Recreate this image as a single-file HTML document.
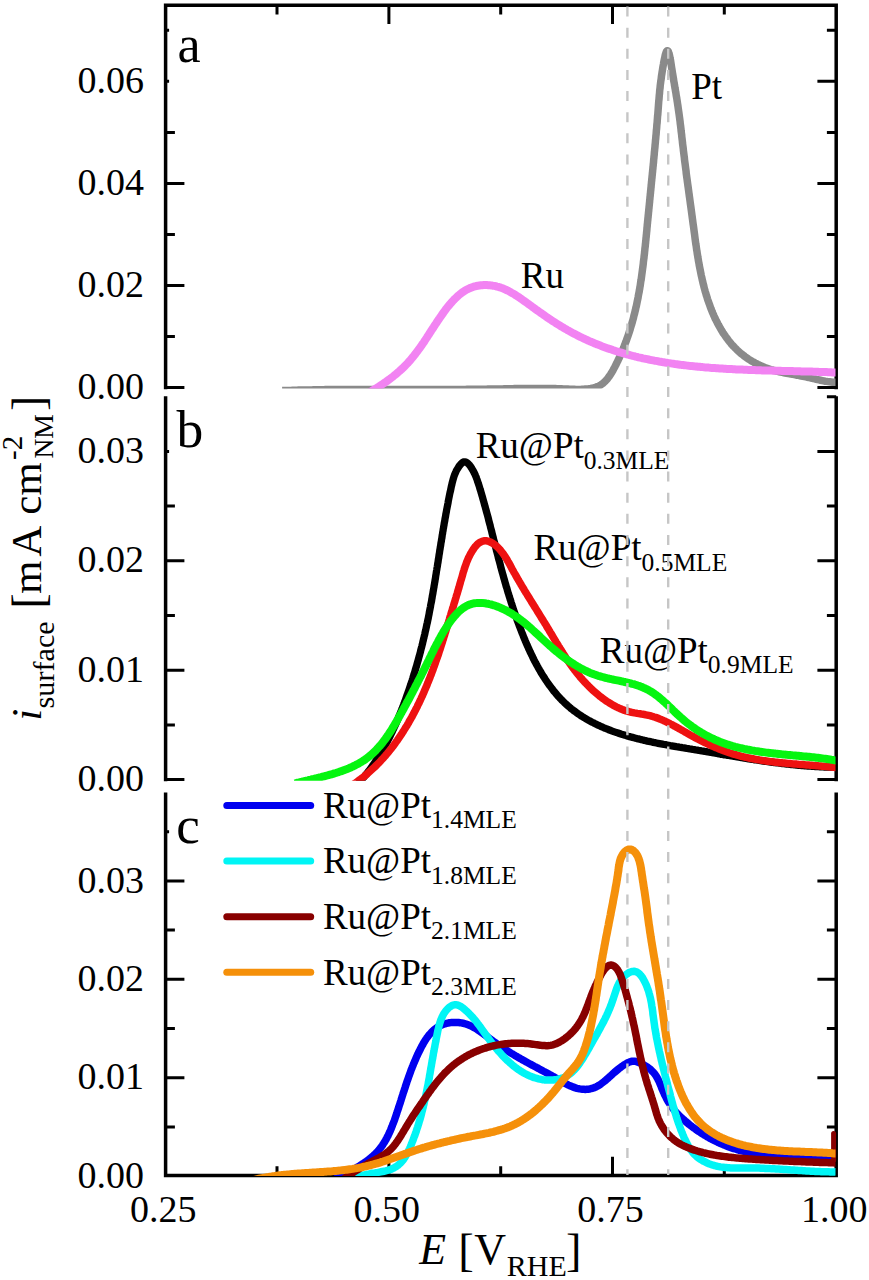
<!DOCTYPE html>
<html><head><meta charset="utf-8"><style>
html,body{margin:0;padding:0;background:#fff;}
svg{display:block;}
text{font-family:'Liberation Serif',serif;fill:#000;}
</style></head><body><div id="w">
<svg width="869" height="1280" viewBox="0 0 869 1280">
<rect width="869" height="1280" fill="#fff"/>
<defs>
<clipPath id="ca"><rect x="165.6" y="0" width="669.9" height="388.6"/></clipPath>
<clipPath id="cb"><rect x="165.6" y="396" width="669.9" height="384.79999999999995"/></clipPath>
<clipPath id="cc"><rect x="165.6" y="792" width="669.9" height="384"/></clipPath>
</defs>
<path d="M165.6,389.2 L165.6,5.2 L836.2,5.2 L836.2,389.2" fill="none" stroke="#000" stroke-width="3.5" stroke-linejoin="miter"/><path d="M165.6,396.2 L165.6,781.2 M836.2,396.2 L836.2,781.2" fill="none" stroke="#000" stroke-width="3.5"/><path d="M165.6,792.5 L165.6,1175.6 L836.2,1175.6 L836.2,792.5" fill="none" stroke="#000" stroke-width="3.5" stroke-linejoin="miter"/><path d="M836.2,387.6L817.4,387.6M165.6,387.6L184.4,387.6M836.2,336.6L826.9,336.6M165.6,336.6L174.9,336.6M836.2,285.5L817.4,285.5M165.6,285.5L184.4,285.5M836.2,234.5L826.9,234.5M165.6,234.5L174.9,234.5M836.2,183.4L817.4,183.4M165.6,183.4L184.4,183.4M836.2,132.4L826.9,132.4M165.6,132.4L174.9,132.4M836.2,81.3L817.4,81.3M165.6,81.3L169.1,81.3M836.2,30.2L826.9,30.2M165.6,30.2L169.1,30.2M836.2,779.6L817.4,779.6M165.6,779.6L184.4,779.6M836.2,724.9L826.9,724.9M165.6,724.9L174.9,724.9M836.2,670.2L817.4,670.2M165.6,670.2L184.4,670.2M836.2,615.5L826.9,615.5M165.6,615.5L174.9,615.5M836.2,560.8L817.4,560.8M165.6,560.8L184.4,560.8M836.2,506.1L826.9,506.1M165.6,506.1L174.9,506.1M836.2,451.4L817.4,451.4M165.6,451.4L169.1,451.4M836.2,396.7L826.9,396.7M836.2,1126.9L826.9,1126.9M165.6,1126.9L174.9,1126.9M836.2,1077.7L817.4,1077.7M165.6,1077.7L184.4,1077.7M836.2,1028.5L826.9,1028.5M165.6,1028.5L174.9,1028.5M836.2,979.3L817.4,979.3M165.6,979.3L184.4,979.3M836.2,930.1L826.9,930.1M165.6,930.1L174.9,930.1M836.2,880.9L817.4,880.9M165.6,880.9L184.4,880.9M836.2,831.7L826.9,831.7M165.6,831.7L169.1,831.7M277.0,5.2L277.0,14.5M277.0,1175.6L277.0,1166.3M388.9,5.2L388.9,24.0M388.9,1175.6L388.9,1156.8M500.7,5.2L500.7,14.5M500.7,1175.6L500.7,1166.3M612.5,5.2L612.5,24.0M612.5,1175.6L612.5,1156.8M724.3,5.2L724.3,14.5M724.3,1175.6L724.3,1166.3" stroke="#000" stroke-width="3.0" fill="none"/>
<path d="M282.1,390.6L283.6,390.6 285.0,390.5 286.5,390.5 288.0,390.4 289.5,390.4 291.0,390.4 292.5,390.3 294.0,390.3 295.5,390.2 297.0,390.2 298.5,390.1 300.0,390.1 301.4,390.1 302.9,390.0 304.4,390.0 305.9,390.0 307.4,389.9 308.9,389.9 310.4,389.9 311.9,389.9 313.4,389.8 314.9,389.8 316.4,389.8 317.9,389.7 319.4,389.7 320.9,389.7 322.4,389.7 323.9,389.7 325.4,389.6 326.9,389.6 328.4,389.6 329.9,389.6 331.5,389.6 333.0,389.5 334.5,389.5 336.0,389.5 337.5,389.5 339.0,389.5 340.5,389.5 342.0,389.5 343.5,389.5 345.0,389.4 346.5,389.4 348.0,389.4 349.5,389.4 351.0,389.4 352.5,389.4 354.1,389.4 355.6,389.4 357.1,389.4 358.6,389.4 360.1,389.4 361.6,389.4 363.1,389.4 364.6,389.4 366.1,389.4 367.6,389.4 369.1,389.4 370.7,389.4 372.2,389.4 373.7,389.4 375.2,389.4 376.7,389.4 378.2,389.4 379.7,389.4 381.2,389.4 382.7,389.4 384.3,389.4 385.8,389.4 387.3,389.4 388.8,389.4 390.3,389.4 391.8,389.4 393.3,389.4 394.8,389.4 396.3,389.4 397.8,389.4 399.4,389.4 400.9,389.4 402.4,389.4 403.9,389.4 405.4,389.4 406.9,389.4 408.4,389.4 409.9,389.4 411.4,389.4 412.9,389.4 414.4,389.4 416.0,389.4 417.5,389.4 419.0,389.4 420.5,389.4 422.0,389.4 423.5,389.4 425.0,389.4 426.5,389.4 428.0,389.4 429.5,389.4 431.0,389.4 432.5,389.4 434.0,389.4 435.5,389.4 437.0,389.4 438.5,389.4 440.0,389.4 441.6,389.4 443.1,389.4 444.6,389.4 446.1,389.4 447.6,389.4 449.1,389.4 450.6,389.4 452.1,389.4 453.6,389.4 455.1,389.4 456.6,389.4 458.1,389.4 459.5,389.4 461.0,389.4 462.5,389.4 464.0,389.4 465.5,389.4 467.0,389.3 468.5,389.3 470.0,389.3 471.5,389.3 473.0,389.3 474.5,389.3 476.0,389.3 477.5,389.3 479.0,389.2 480.4,389.2 481.9,389.2 483.4,389.2 484.9,389.2 486.4,389.2 487.9,389.1 489.4,389.1 490.8,389.1 492.3,389.1 493.8,389.0 495.3,389.0 496.8,389.0 498.3,389.0 499.7,388.9 501.2,388.9 502.7,388.9 504.2,388.8 505.6,388.8 507.1,388.8 508.6,388.8 510.1,388.7 511.6,388.7 513.0,388.7 514.5,388.6 516.0,388.6 517.5,388.6 518.9,388.5 520.4,388.5 521.9,388.5 523.4,388.5 524.9,388.4 526.4,388.4 527.9,388.4 529.4,388.4 530.9,388.4 532.4,388.4 533.9,388.4 535.4,388.4 536.9,388.4 538.4,388.4 539.9,388.4 541.4,388.4 543.0,388.4 544.5,388.4 546.0,388.4 547.6,388.4 549.1,388.5 550.7,388.5 552.2,388.5 553.8,388.6 555.3,388.6 556.9,388.7 558.5,388.7 560.1,388.8 561.6,388.8 563.2,388.9 564.8,389.0 566.4,389.1 568.0,389.1 569.6,389.2 571.2,389.3 572.8,389.3 574.3,389.3 575.9,389.4 577.5,389.4 579.0,389.4 580.6,389.4 582.1,389.3 583.6,389.2 585.1,389.1 586.5,389.0 588.0,388.9 589.4,388.7 590.8,388.5 592.2,388.2 593.5,387.9 594.8,387.5 596.1,387.1 597.4,386.6 598.6,386.1 599.8,385.5 600.9,384.8 602.0,384.0 603.1,383.2 604.1,382.3 605.2,381.3 606.1,380.3 607.1,379.2 608.0,378.0 608.9,376.8 609.7,375.6 610.6,374.3 611.4,373.0 612.2,371.7 613.0,370.3 613.7,368.9 614.5,367.5 615.2,366.1 615.9,364.7 616.6,363.3 617.3,361.9 618.0,360.5 618.6,359.1 619.3,357.7 619.9,356.3 620.6,354.9 621.2,353.4 621.8,352.0 622.4,350.6 623.0,349.2 623.6,347.8 624.1,346.4 624.7,344.9 625.2,343.5 625.8,342.1 626.3,340.7 626.8,339.2 627.3,337.8 627.8,336.4 628.3,335.0 628.8,333.5 629.3,332.1 629.7,330.7 630.2,329.2 630.6,327.8 631.0,326.4 631.5,324.9 631.9,323.5 632.3,322.1 632.7,320.6 633.1,319.2 633.5,317.7 633.8,316.3 634.2,314.8 634.6,313.4 634.9,312.0 635.3,310.5 635.6,309.1 635.9,307.6 636.3,306.2 636.6,304.7 636.9,303.3 637.2,301.8 637.5,300.3 637.8,298.9 638.1,297.4 638.3,296.0 638.6,294.5 638.9,293.0 639.2,291.6 639.4,290.1 639.7,288.7 639.9,287.2 640.2,285.7 640.4,284.3 640.6,282.8 640.8,281.3 641.1,279.9 641.3,278.4 641.5,276.9 641.7,275.4 641.9,274.0 642.1,272.5 642.3,271.0 642.5,269.5 642.7,268.0 642.9,266.6 643.1,265.1 643.3,263.6 643.4,262.1 643.6,260.6 643.8,259.1 644.0,257.7 644.1,256.2 644.3,254.7 644.5,253.2 644.6,251.7 644.8,250.2 644.9,248.7 645.1,247.2 645.3,245.7 645.4,244.2 645.6,242.7 645.7,241.2 645.9,239.7 646.0,238.2 646.2,236.7 646.3,235.2 646.5,233.7 646.6,232.2 646.8,230.7 646.9,229.2 647.0,227.7 647.2,226.2 647.3,224.6 647.5,223.1 647.6,221.6 647.8,220.1 647.9,218.6 648.1,217.1 648.2,215.5 648.4,214.0 648.5,212.5 648.7,211.0 648.8,209.5 649.0,207.9 649.1,206.4 649.3,204.9 649.4,203.4 649.6,201.9 649.7,200.3 649.9,198.8 650.0,197.3 650.2,195.8 650.3,194.3 650.5,192.7 650.6,191.2 650.8,189.7 650.9,188.2 651.1,186.7 651.2,185.1 651.4,183.6 651.5,182.1 651.7,180.6 651.8,179.1 652.0,177.6 652.1,176.1 652.3,174.5 652.4,173.0 652.6,171.5 652.7,170.0 652.9,168.5 653.0,167.0 653.2,165.5 653.3,164.0 653.5,162.5 653.6,161.0 653.7,159.5 653.9,158.0 654.0,156.5 654.2,155.0 654.3,153.6 654.4,152.1 654.6,150.6 654.7,149.1 654.9,147.6 655.0,146.2 655.1,144.7 655.3,143.2 655.4,141.7 655.5,140.3 655.7,138.8 655.8,137.4 655.9,135.9 656.1,134.5 656.2,133.0 656.3,131.6 656.4,130.1 656.6,128.7 656.7,127.2 656.8,125.8 656.9,124.4 657.1,123.0 657.2,121.5 657.3,120.1 657.4,118.7 657.5,117.3 657.6,115.9 657.8,114.5 657.9,113.1 658.0,111.7 658.1,110.3 658.2,108.9 658.3,107.6 658.4,106.2 658.5,104.8 658.6,103.4 658.7,102.0 658.8,100.7 659.0,99.3 659.1,97.8 659.2,96.4 659.3,95.0 659.5,93.5 659.6,92.1 659.7,90.6 659.9,89.1 660.1,87.5 660.2,86.0 660.4,84.4 660.6,82.7 660.8,81.1 661.1,79.4 661.3,77.7 661.5,75.9 661.8,74.1 662.1,72.2 662.4,70.3 662.7,68.4 663.0,66.4 663.4,64.4 663.7,62.4 664.1,60.5 664.5,58.6 664.9,56.9 665.2,55.3 665.6,53.9 666.0,52.7 666.4,51.7 666.8,51.1 667.2,50.7 667.6,50.7 668.0,51.0 668.4,51.6 668.7,52.5 669.1,53.6 669.4,55.0 669.8,56.6 670.1,58.3 670.5,60.1 670.8,62.0 671.1,64.0 671.4,66.0 671.7,68.0 672.0,69.9 672.3,71.8 672.6,73.6 672.9,75.4 673.2,77.1 673.5,78.8 673.7,80.5 674.0,82.1 674.3,83.6 674.5,85.2 674.8,86.7 675.0,88.1 675.3,89.6 675.5,91.0 675.8,92.4 676.0,93.8 676.2,95.2 676.4,96.5 676.7,97.9 676.9,99.2 677.1,100.6 677.3,101.9 677.5,103.2 677.7,104.6 677.9,105.9 678.1,107.3 678.3,108.7 678.5,110.1 678.7,111.5 678.9,112.9 679.1,114.3 679.3,115.8 679.5,117.2 679.7,118.7 679.9,120.2 680.1,121.7 680.2,123.1 680.4,124.6 680.6,126.1 680.8,127.7 681.0,129.2 681.1,130.7 681.3,132.2 681.5,133.7 681.7,135.3 681.8,136.8 682.0,138.3 682.2,139.9 682.4,141.4 682.5,142.9 682.7,144.5 682.9,146.0 683.1,147.5 683.3,149.0 683.4,150.6 683.6,152.1 683.8,153.6 684.0,155.1 684.2,156.6 684.4,158.1 684.5,159.6 684.7,161.1 684.9,162.6 685.1,164.1 685.3,165.5 685.5,167.0 685.7,168.5 685.9,170.0 686.1,171.5 686.2,172.9 686.4,174.4 686.6,175.9 686.8,177.4 687.0,178.8 687.2,180.3 687.4,181.8 687.6,183.2 687.8,184.7 688.0,186.1 688.2,187.6 688.4,189.1 688.6,190.5 688.8,192.0 689.0,193.5 689.2,194.9 689.4,196.4 689.6,197.8 689.8,199.3 690.0,200.8 690.2,202.2 690.4,203.7 690.6,205.2 690.8,206.6 691.0,208.1 691.2,209.6 691.4,211.0 691.6,212.5 691.8,214.0 692.0,215.5 692.2,216.9 692.4,218.4 692.6,219.9 692.8,221.4 693.0,222.9 693.2,224.4 693.4,225.8 693.6,227.3 693.8,228.8 694.0,230.3 694.2,231.8 694.4,233.3 694.6,234.8 694.8,236.4 695.0,237.9 695.2,239.4 695.4,240.9 695.6,242.4 695.8,243.9 696.1,245.4 696.3,246.9 696.5,248.4 696.7,250.0 697.0,251.5 697.2,253.0 697.4,254.5 697.7,256.0 697.9,257.5 698.2,259.0 698.4,260.5 698.7,262.1 699.0,263.6 699.2,265.1 699.5,266.6 699.8,268.1 700.1,269.6 700.4,271.1 700.7,272.6 701.0,274.1 701.3,275.6 701.7,277.1 702.0,278.5 702.3,280.0 702.7,281.5 703.0,283.0 703.4,284.5 703.8,285.9 704.1,287.4 704.5,288.9 704.9,290.3 705.3,291.8 705.8,293.2 706.2,294.7 706.6,296.1 707.1,297.5 707.5,299.0 708.0,300.4 708.5,301.8 709.0,303.2 709.5,304.6 710.0,306.0 710.5,307.4 711.0,308.8 711.6,310.2 712.1,311.6 712.7,313.0 713.3,314.3 713.9,315.7 714.5,317.0 715.1,318.4 715.8,319.7 716.4,321.0 717.1,322.3 717.8,323.7 718.5,325.0 719.2,326.2 719.9,327.5 720.6,328.8 721.4,330.1 722.2,331.3 722.9,332.6 723.7,333.8 724.6,335.0 725.4,336.2 726.3,337.4 727.1,338.6 728.0,339.8 728.9,341.0 729.8,342.1 730.8,343.2 731.7,344.4 732.7,345.5 733.7,346.5 734.7,347.6 735.8,348.7 736.8,349.7 737.9,350.7 739.0,351.7 740.1,352.7 741.2,353.7 742.4,354.6 743.6,355.5 744.8,356.5 746.0,357.3 747.2,358.2 748.5,359.1 749.8,359.9 751.1,360.7 752.4,361.5 753.8,362.2 755.1,363.0 756.5,363.7 757.9,364.4 759.3,365.0 760.7,365.7 762.1,366.3 763.5,366.9 764.9,367.5 766.4,368.0 767.8,368.5 769.2,369.0 770.7,369.5 772.1,369.9 773.6,370.3 775.0,370.7 776.5,371.1 777.9,371.4 779.4,371.8 780.8,372.1 782.3,372.4 783.8,372.7 785.2,373.0 786.7,373.3 788.2,373.6 789.6,373.8 791.1,374.1 792.6,374.4 794.1,374.6 795.5,374.9 797.0,375.2 798.5,375.4 800.0,375.7 801.4,376.0 802.9,376.3 804.4,376.6 805.9,376.9 807.4,377.2 808.8,377.5 810.3,377.9 811.8,378.2 813.3,378.6 814.8,378.9 816.3,379.3 817.7,379.6 819.2,379.9 820.7,380.3 822.2,380.6 823.7,380.9 825.2,381.2 826.6,381.4 828.1,381.6 829.6,381.8 831.1,382.0 832.6,382.2 834.0,382.3 835.5,382.3 837.0,382.4 838.5,382.3 839.9,382.3" fill="none" stroke="#8a8a8a" stroke-width="7.5" stroke-linejoin="round" clip-path="url(#ca)"/><path d="M355.3,400.3L356.5,399.7 357.6,399.1 358.8,398.5 360.0,397.8 361.2,397.1 362.4,396.4 363.7,395.8 364.9,395.0 366.2,394.3 367.5,393.6 368.7,392.8 370.0,392.1 371.3,391.3 372.6,390.5 373.9,389.7 375.2,388.9 376.5,388.1 377.8,387.2 379.2,386.4 380.5,385.5 381.8,384.7 383.1,383.8 384.4,382.9 385.7,382.0 387.0,381.1 388.2,380.1 389.5,379.2 390.8,378.3 392.0,377.3 393.3,376.3 394.5,375.3 395.7,374.4 396.9,373.4 398.1,372.3 399.3,371.3 400.4,370.3 401.5,369.3 402.6,368.2 403.7,367.2 404.8,366.1 405.8,365.0 406.8,364.0 407.9,362.9 408.8,361.8 409.8,360.7 410.8,359.6 411.7,358.4 412.7,357.3 413.6,356.2 414.5,355.0 415.4,353.9 416.3,352.7 417.1,351.6 418.0,350.4 418.9,349.2 419.7,348.1 420.6,346.9 421.4,345.7 422.2,344.5 423.0,343.3 423.9,342.1 424.7,340.8 425.5,339.6 426.3,338.4 427.1,337.2 427.9,335.9 428.7,334.7 429.5,333.5 430.3,332.2 431.1,331.0 431.9,329.7 432.8,328.4 433.6,327.2 434.4,325.9 435.2,324.6 436.1,323.4 436.9,322.1 437.8,320.8 438.6,319.5 439.5,318.3 440.4,317.0 441.3,315.7 442.2,314.4 443.1,313.1 444.0,311.8 444.9,310.6 445.9,309.3 446.8,308.0 447.8,306.8 448.8,305.6 449.8,304.4 450.8,303.2 451.9,302.0 452.9,300.9 454.0,299.7 455.1,298.6 456.2,297.6 457.3,296.5 458.4,295.5 459.6,294.5 460.7,293.6 461.9,292.7 463.1,291.9 464.4,291.0 465.6,290.3 466.9,289.6 468.2,288.9 469.5,288.3 470.9,287.7 472.2,287.2 473.6,286.7 475.0,286.3 476.5,286.0 477.9,285.7 479.4,285.5 480.9,285.3 482.3,285.2 483.8,285.1 485.3,285.1 486.8,285.1 488.3,285.2 489.8,285.3 491.3,285.4 492.7,285.7 494.2,285.9 495.6,286.2 497.0,286.6 498.4,286.9 499.8,287.3 501.1,287.8 502.5,288.3 503.8,288.8 505.1,289.4 506.4,290.0 507.7,290.6 509.0,291.3 510.3,292.0 511.5,292.7 512.8,293.4 514.1,294.2 515.4,295.0 516.7,295.8 518.0,296.7 519.3,297.5 520.5,298.4 521.8,299.3 523.1,300.2 524.4,301.1 525.7,302.0 526.9,302.9 528.2,303.9 529.5,304.8 530.8,305.7 532.1,306.7 533.4,307.6 534.6,308.5 535.9,309.5 537.2,310.4 538.5,311.3 539.8,312.2 541.1,313.1 542.4,314.0 543.6,314.9 544.9,315.8 546.2,316.7 547.5,317.6 548.8,318.5 550.1,319.3 551.4,320.2 552.7,321.1 554.0,321.9 555.3,322.7 556.6,323.6 557.9,324.4 559.2,325.2 560.5,326.0 561.8,326.8 563.1,327.5 564.4,328.3 565.7,329.1 567.0,329.8 568.3,330.6 569.6,331.3 570.9,332.0 572.2,332.7 573.5,333.4 574.9,334.1 576.2,334.8 577.5,335.5 578.8,336.1 580.2,336.8 581.5,337.4 582.8,338.1 584.2,338.7 585.5,339.3 586.8,339.9 588.2,340.6 589.5,341.2 590.9,341.7 592.2,342.3 593.6,342.9 594.9,343.5 596.3,344.0 597.6,344.6 599.0,345.1 600.4,345.6 601.7,346.2 603.1,346.7 604.5,347.2 605.9,347.7 607.3,348.2 608.6,348.7 610.0,349.1 611.4,349.6 612.8,350.1 614.2,350.5 615.6,351.0 617.0,351.4 618.4,351.9 619.8,352.3 621.3,352.7 622.7,353.1 624.1,353.5 625.5,353.9 626.9,354.3 628.4,354.7 629.8,355.1 631.2,355.5 632.7,355.9 634.1,356.2 635.6,356.6 637.0,356.9 638.4,357.3 639.9,357.6 641.4,357.9 642.8,358.3 644.3,358.6 645.7,358.9 647.2,359.2 648.7,359.5 650.1,359.8 651.6,360.1 653.1,360.4 654.5,360.7 656.0,360.9 657.5,361.2 659.0,361.5 660.5,361.7 661.9,362.0 663.4,362.2 664.9,362.5 666.4,362.7 667.9,363.0 669.4,363.2 670.9,363.4 672.4,363.6 673.9,363.8 675.4,364.1 676.9,364.3 678.4,364.5 679.9,364.7 681.4,364.9 682.9,365.0 684.4,365.2 685.9,365.4 687.4,365.6 688.9,365.8 690.5,365.9 692.0,366.1 693.5,366.2 695.0,366.4 696.5,366.5 698.0,366.7 699.6,366.8 701.1,367.0 702.6,367.1 704.1,367.3 705.6,367.4 707.2,367.5 708.7,367.6 710.2,367.8 711.7,367.9 713.3,368.0 714.8,368.1 716.3,368.2 717.9,368.3 719.4,368.4 720.9,368.5 722.4,368.6 724.0,368.7 725.5,368.8 727.0,368.9 728.6,369.0 730.1,369.0 731.6,369.1 733.2,369.2 734.7,369.3 736.2,369.4 737.8,369.4 739.3,369.5 740.8,369.6 742.3,369.6 743.9,369.7 745.4,369.8 746.9,369.8 748.5,369.9 750.0,369.9 751.5,370.0 753.1,370.1 754.6,370.1 756.1,370.2 757.6,370.2 759.2,370.3 760.7,370.3 762.2,370.4 763.7,370.4 765.3,370.4 766.8,370.5 768.3,370.5 769.8,370.6 771.4,370.6 772.9,370.7 774.4,370.7 775.9,370.7 777.4,370.8 778.9,370.8 780.5,370.8 782.0,370.9 783.5,370.9 785.0,371.0 786.5,371.0 788.0,371.0 789.5,371.1 791.0,371.1 792.5,371.1 794.0,371.2 795.5,371.2 797.0,371.2 798.5,371.3 800.0,371.3 801.5,371.4 803.0,371.4 804.5,371.4 806.0,371.5 807.5,371.5 809.0,371.6 810.5,371.6 811.9,371.6 813.4,371.7 814.9,371.7 816.4,371.8 817.9,371.8 819.3,371.9 820.8,371.9 822.3,372.0 823.7,372.0 825.2,372.1 826.6,372.1 828.1,372.2 829.6,372.2 831.0,372.3 832.5,372.4 833.9,372.4 835.4,372.5 836.8,372.6 838.2,372.6 839.7,372.7" fill="none" stroke="#f283f2" stroke-width="8" stroke-linejoin="round" clip-path="url(#ca)"/><path d="M340.2,800.2L341.4,799.3 342.6,798.3 343.7,797.4 344.9,796.4 346.0,795.4 347.2,794.4 348.3,793.4 349.4,792.4 350.5,791.3 351.6,790.3 352.7,789.3 353.8,788.2 354.8,787.1 355.9,786.1 356.9,785.0 357.9,783.9 358.9,782.8 359.9,781.7 360.9,780.6 361.9,779.4 362.9,778.3 363.8,777.2 364.8,776.0 365.7,774.8 366.7,773.7 367.6,772.5 368.5,771.3 369.4,770.1 370.3,768.9 371.2,767.7 372.0,766.5 372.9,765.3 373.7,764.1 374.6,762.8 375.4,761.6 376.2,760.3 377.1,759.1 377.9,757.8 378.7,756.6 379.5,755.3 380.2,754.0 381.0,752.7 381.8,751.4 382.5,750.1 383.3,748.8 384.0,747.5 384.7,746.2 385.5,744.9 386.2,743.6 386.9,742.3 387.6,740.9 388.3,739.6 389.0,738.3 389.7,736.9 390.3,735.6 391.0,734.2 391.6,732.9 392.3,731.5 392.9,730.1 393.6,728.8 394.2,727.4 394.8,726.0 395.5,724.6 396.1,723.2 396.7,721.9 397.3,720.5 397.9,719.1 398.4,717.7 399.0,716.3 399.6,714.9 400.2,713.5 400.7,712.1 401.3,710.7 401.9,709.3 402.4,707.9 402.9,706.5 403.5,705.0 404.0,703.6 404.6,702.2 405.1,700.8 405.6,699.4 406.1,697.9 406.6,696.5 407.1,695.1 407.6,693.7 408.1,692.3 408.6,690.8 409.1,689.4 409.6,688.0 410.1,686.5 410.6,685.1 411.0,683.7 411.5,682.3 412.0,680.8 412.4,679.4 412.9,678.0 413.3,676.5 413.8,675.1 414.2,673.6 414.7,672.2 415.1,670.8 415.5,669.3 415.9,667.9 416.4,666.4 416.8,665.0 417.2,663.5 417.6,662.1 418.0,660.7 418.4,659.2 418.8,657.8 419.2,656.3 419.6,654.9 420.0,653.4 420.4,652.0 420.7,650.5 421.1,649.0 421.5,647.6 421.9,646.1 422.2,644.7 422.6,643.2 422.9,641.8 423.3,640.3 423.6,638.8 424.0,637.4 424.3,635.9 424.7,634.5 425.0,633.0 425.3,631.5 425.7,630.1 426.0,628.6 426.3,627.2 426.6,625.7 426.9,624.2 427.3,622.8 427.6,621.3 427.9,619.8 428.2,618.4 428.5,616.9 428.8,615.4 429.1,613.9 429.3,612.5 429.6,611.0 429.9,609.5 430.2,608.1 430.5,606.6 430.7,605.1 431.0,603.6 431.3,602.2 431.6,600.7 431.8,599.2 432.1,597.7 432.3,596.3 432.6,594.8 432.9,593.3 433.1,591.8 433.4,590.3 433.6,588.9 433.9,587.4 434.1,585.9 434.4,584.4 434.6,582.9 434.9,581.5 435.1,580.0 435.4,578.5 435.6,577.0 435.8,575.5 436.1,574.1 436.3,572.6 436.5,571.1 436.8,569.6 437.0,568.1 437.3,566.6 437.5,565.2 437.7,563.7 438.0,562.2 438.2,560.7 438.4,559.2 438.7,557.7 438.9,556.2 439.1,554.8 439.4,553.3 439.6,551.8 439.8,550.3 440.1,548.8 440.3,547.3 440.6,545.8 440.8,544.3 441.0,542.8 441.3,541.4 441.5,539.9 441.8,538.4 442.0,536.9 442.2,535.4 442.5,533.9 442.7,532.4 443.0,530.9 443.2,529.4 443.5,527.9 443.7,526.5 444.0,525.0 444.2,523.5 444.5,522.0 444.8,520.5 445.0,519.0 445.3,517.5 445.6,516.0 445.8,514.5 446.1,513.0 446.4,511.5 446.6,510.1 446.9,508.6 447.2,507.1 447.5,505.6 447.8,504.1 448.1,502.6 448.3,501.1 448.6,499.6 448.9,498.1 449.2,496.6 449.5,495.1 449.8,493.6 450.1,492.2 450.5,490.7 450.8,489.2 451.1,487.7 451.4,486.2 451.8,484.7 452.1,483.2 452.5,481.7 452.9,480.3 453.3,478.8 453.7,477.4 454.2,475.9 454.7,474.5 455.3,473.1 455.9,471.8 456.5,470.4 457.3,469.1 458.1,467.8 458.9,466.5 459.8,465.3 460.8,464.1 461.9,463.0 463.0,462.2 464.1,461.8 465.3,461.8 466.4,462.3 467.5,463.0 468.6,464.1 469.7,465.3 470.7,466.7 471.7,468.3 472.6,469.8 473.5,471.4 474.3,473.0 475.0,474.4 475.6,475.9 476.2,477.3 476.7,478.7 477.2,480.0 477.6,481.4 478.1,482.8 478.5,484.1 479.0,485.5 479.4,486.8 479.8,488.2 480.2,489.6 480.7,491.0 481.1,492.4 481.5,493.8 481.9,495.2 482.3,496.6 482.7,498.0 483.1,499.4 483.5,500.9 483.9,502.3 484.3,503.7 484.7,505.2 485.1,506.6 485.5,508.1 485.9,509.5 486.3,511.0 486.7,512.4 487.1,513.9 487.5,515.4 487.9,516.8 488.3,518.3 488.6,519.7 489.0,521.2 489.4,522.7 489.8,524.2 490.2,525.6 490.5,527.1 490.9,528.6 491.3,530.0 491.7,531.5 492.0,533.0 492.4,534.5 492.8,535.9 493.2,537.4 493.5,538.9 493.9,540.4 494.3,541.8 494.7,543.3 495.0,544.8 495.4,546.2 495.8,547.7 496.2,549.2 496.5,550.7 496.9,552.1 497.3,553.6 497.7,555.0 498.1,556.5 498.4,558.0 498.8,559.4 499.2,560.9 499.6,562.3 500.0,563.8 500.4,565.2 500.7,566.7 501.1,568.1 501.5,569.6 501.9,571.0 502.3,572.4 502.7,573.9 503.1,575.3 503.5,576.7 503.9,578.2 504.3,579.6 504.7,581.0 505.1,582.4 505.5,583.8 505.9,585.3 506.3,586.7 506.8,588.1 507.2,589.5 507.6,590.9 508.0,592.4 508.5,593.8 508.9,595.2 509.3,596.6 509.8,598.0 510.2,599.4 510.7,600.8 511.1,602.3 511.6,603.7 512.0,605.1 512.5,606.5 513.0,607.9 513.4,609.3 513.9,610.7 514.4,612.2 514.9,613.6 515.4,615.0 515.9,616.4 516.4,617.8 516.9,619.3 517.4,620.7 517.9,622.1 518.5,623.5 519.0,624.9 519.5,626.4 520.1,627.8 520.6,629.2 521.2,630.7 521.7,632.1 522.3,633.5 522.9,634.9 523.4,636.4 524.0,637.8 524.6,639.2 525.2,640.7 525.8,642.1 526.4,643.5 527.0,644.9 527.7,646.4 528.3,647.8 528.9,649.2 529.6,650.6 530.2,652.0 530.9,653.4 531.6,654.8 532.3,656.2 532.9,657.6 533.6,659.0 534.3,660.4 535.0,661.7 535.8,663.1 536.5,664.5 537.2,665.8 538.0,667.2 538.7,668.5 539.5,669.9 540.3,671.2 541.0,672.5 541.8,673.8 542.6,675.1 543.4,676.4 544.3,677.7 545.1,679.0 545.9,680.2 546.8,681.5 547.6,682.7 548.5,684.0 549.4,685.2 550.3,686.4 551.2,687.6 552.1,688.8 553.0,690.0 553.9,691.2 554.9,692.3 555.8,693.4 556.8,694.6 557.7,695.7 558.7,696.8 559.7,697.9 560.7,698.9 561.7,700.0 562.8,701.0 563.8,702.0 564.9,703.1 565.9,704.0 567.0,705.0 568.1,706.0 569.2,706.9 570.3,707.9 571.4,708.8 572.6,709.7 573.7,710.6 574.9,711.4 576.0,712.3 577.2,713.1 578.4,714.0 579.6,714.8 580.8,715.6 582.0,716.4 583.2,717.1 584.5,717.9 585.7,718.6 587.0,719.4 588.2,720.1 589.5,720.8 590.8,721.5 592.1,722.2 593.4,722.8 594.7,723.5 596.0,724.1 597.3,724.8 598.7,725.4 600.0,726.0 601.3,726.6 602.7,727.2 604.0,727.8 605.4,728.4 606.8,728.9 608.2,729.5 609.5,730.0 610.9,730.5 612.3,731.1 613.7,731.6 615.2,732.1 616.6,732.6 618.0,733.0 619.4,733.5 620.9,734.0 622.3,734.4 623.7,734.9 625.2,735.3 626.6,735.7 628.1,736.2 629.6,736.6 631.0,737.0 632.5,737.4 634.0,737.8 635.5,738.2 636.9,738.6 638.4,738.9 639.9,739.3 641.4,739.7 642.9,740.0 644.4,740.4 645.9,740.7 647.4,741.1 648.9,741.4 650.4,741.7 651.9,742.0 653.4,742.4 654.9,742.7 656.5,743.0 658.0,743.3 659.5,743.6 661.0,743.9 662.5,744.2 664.1,744.5 665.6,744.7 667.1,745.0 668.6,745.3 670.2,745.6 671.7,745.8 673.2,746.1 674.7,746.4 676.2,746.7 677.8,746.9 679.3,747.2 680.8,747.4 682.3,747.7 683.9,747.9 685.4,748.2 686.9,748.5 688.4,748.7 689.9,749.0 691.4,749.2 692.9,749.5 694.4,749.7 695.9,750.0 697.5,750.2 699.0,750.5 700.4,750.7 701.9,751.0 703.4,751.2 704.9,751.5 706.4,751.7 707.9,752.0 709.4,752.2 710.9,752.5 712.3,752.7 713.8,753.0 715.3,753.2 716.8,753.5 718.2,753.8 719.7,754.0 721.2,754.3 722.6,754.5 724.1,754.8 725.6,755.0 727.0,755.3 728.5,755.5 729.9,755.7 731.4,756.0 732.9,756.2 734.3,756.5 735.8,756.7 737.2,757.0 738.7,757.2 740.1,757.4 741.6,757.7 743.0,757.9 744.5,758.2 745.9,758.4 747.4,758.6 748.8,758.9 750.3,759.1 751.7,759.3 753.2,759.5 754.7,759.8 756.1,760.0 757.6,760.2 759.0,760.4 760.5,760.6 761.9,760.8 763.4,761.1 764.8,761.3 766.3,761.5 767.7,761.7 769.2,761.9 770.7,762.1 772.1,762.3 773.6,762.5 775.0,762.6 776.5,762.8 778.0,763.0 779.4,763.2 780.9,763.4 782.4,763.6 783.8,763.7 785.3,763.9 786.8,764.1 788.3,764.2 789.8,764.4 791.2,764.5 792.7,764.7 794.2,764.8 795.7,765.0 797.2,765.1 798.7,765.3 800.2,765.4 801.7,765.5 803.2,765.7 804.7,765.8 806.2,765.9 807.7,766.0 809.2,766.1 810.7,766.2 812.2,766.3 813.8,766.4 815.3,766.5 816.8,766.6 818.4,766.7 819.9,766.8 821.4,766.8 823.0,766.9 824.5,767.0 826.1,767.0 827.6,767.1 829.2,767.1 830.8,767.2 832.3,767.2 833.9,767.3 835.5,767.3 837.1,767.3 838.7,767.3 840.2,767.4" fill="none" stroke="#000000" stroke-width="7.3" stroke-linejoin="round" clip-path="url(#cb)"/><path d="M340.1,792.4L341.5,791.6 342.8,790.9 344.1,790.1 345.5,789.4 346.8,788.6 348.1,787.8 349.4,787.0 350.7,786.2 351.9,785.3 353.2,784.5 354.4,783.7 355.7,782.8 356.9,781.9 358.1,781.0 359.3,780.1 360.5,779.2 361.7,778.3 362.9,777.4 364.1,776.5 365.2,775.5 366.4,774.5 367.5,773.6 368.6,772.6 369.7,771.6 370.8,770.6 371.9,769.6 373.0,768.6 374.1,767.6 375.2,766.5 376.2,765.5 377.3,764.4 378.3,763.4 379.4,762.3 380.4,761.2 381.4,760.1 382.4,759.0 383.4,757.9 384.4,756.8 385.4,755.7 386.3,754.5 387.3,753.4 388.2,752.3 389.2,751.1 390.1,749.9 391.0,748.8 392.0,747.6 392.9,746.4 393.8,745.2 394.7,744.0 395.5,742.8 396.4,741.6 397.3,740.4 398.1,739.2 399.0,737.9 399.8,736.7 400.7,735.4 401.5,734.2 402.3,732.9 403.1,731.7 403.9,730.4 404.7,729.1 405.5,727.8 406.3,726.5 407.1,725.3 407.8,724.0 408.6,722.7 409.3,721.3 410.1,720.0 410.8,718.7 411.6,717.4 412.3,716.1 413.0,714.7 413.7,713.4 414.4,712.1 415.1,710.7 415.8,709.4 416.5,708.0 417.2,706.7 417.8,705.3 418.5,703.9 419.2,702.6 419.8,701.2 420.5,699.8 421.1,698.5 421.7,697.1 422.4,695.7 423.0,694.3 423.6,692.9 424.2,691.5 424.8,690.1 425.4,688.7 426.0,687.3 426.6,685.9 427.2,684.5 427.7,683.1 428.3,681.7 428.9,680.3 429.4,678.9 430.0,677.5 430.5,676.1 431.1,674.7 431.6,673.3 432.1,671.9 432.7,670.4 433.2,669.0 433.7,667.6 434.2,666.2 434.7,664.8 435.2,663.4 435.7,661.9 436.2,660.5 436.7,659.1 437.2,657.7 437.7,656.3 438.2,654.9 438.7,653.4 439.1,652.0 439.6,650.6 440.1,649.2 440.5,647.8 441.0,646.3 441.4,644.9 441.9,643.5 442.4,642.1 442.8,640.6 443.3,639.2 443.7,637.8 444.1,636.4 444.6,635.0 445.0,633.5 445.5,632.1 445.9,630.7 446.3,629.3 446.8,627.8 447.2,626.4 447.6,625.0 448.1,623.6 448.5,622.1 448.9,620.7 449.4,619.3 449.8,617.8 450.2,616.4 450.7,615.0 451.1,613.5 451.5,612.1 452.0,610.7 452.4,609.3 452.8,607.8 453.3,606.4 453.7,605.0 454.1,603.5 454.6,602.1 455.0,600.7 455.4,599.2 455.9,597.8 456.3,596.3 456.7,594.9 457.2,593.5 457.6,592.0 458.0,590.6 458.4,589.2 458.9,587.7 459.3,586.3 459.7,584.8 460.1,583.4 460.5,581.9 460.9,580.5 461.4,579.1 461.8,577.6 462.2,576.2 462.6,574.7 463.0,573.3 463.4,571.8 463.9,570.4 464.3,569.0 464.8,567.5 465.3,566.1 465.8,564.7 466.3,563.3 466.8,561.8 467.4,560.4 468.0,559.0 468.6,557.6 469.3,556.3 470.0,554.9 470.7,553.5 471.5,552.2 472.3,550.8 473.2,549.5 474.1,548.2 475.0,546.9 476.1,545.7 477.1,544.6 478.2,543.5 479.4,542.7 480.7,541.9 482.0,541.4 483.3,541.0 484.6,540.8 486.0,540.8 487.4,541.0 488.8,541.4 490.1,541.9 491.4,542.6 492.7,543.3 494.0,544.2 495.2,545.1 496.4,546.1 497.6,547.2 498.7,548.3 499.8,549.5 500.8,550.7 501.8,552.0 502.8,553.3 503.8,554.6 504.6,555.9 505.5,557.2 506.3,558.5 507.1,559.8 507.8,561.1 508.6,562.4 509.3,563.7 510.0,564.9 510.7,566.2 511.3,567.5 512.0,568.8 512.7,570.0 513.4,571.3 514.1,572.6 514.9,573.9 515.6,575.1 516.3,576.4 517.0,577.7 517.8,579.0 518.5,580.3 519.3,581.6 520.0,582.8 520.8,584.1 521.5,585.4 522.3,586.7 523.1,588.0 523.9,589.3 524.6,590.6 525.4,591.9 526.2,593.1 527.0,594.4 527.8,595.7 528.6,597.0 529.4,598.3 530.2,599.6 531.0,600.9 531.8,602.2 532.6,603.5 533.4,604.8 534.2,606.1 535.0,607.3 535.8,608.6 536.6,609.9 537.4,611.2 538.2,612.5 539.0,613.8 539.8,615.1 540.6,616.4 541.4,617.7 542.2,619.0 543.0,620.3 543.8,621.6 544.6,622.9 545.4,624.1 546.2,625.4 546.9,626.7 547.7,628.0 548.5,629.3 549.3,630.6 550.0,631.9 550.8,633.2 551.6,634.4 552.3,635.7 553.1,637.0 553.8,638.3 554.6,639.6 555.4,640.8 556.1,642.1 556.9,643.4 557.7,644.6 558.4,645.9 559.2,647.2 560.0,648.4 560.8,649.7 561.6,650.9 562.3,652.2 563.1,653.4 563.9,654.7 564.7,655.9 565.5,657.1 566.3,658.4 567.2,659.6 568.0,660.8 568.8,662.0 569.7,663.3 570.5,664.5 571.4,665.7 572.3,666.9 573.1,668.1 574.0,669.2 574.9,670.4 575.8,671.6 576.7,672.8 577.7,673.9 578.6,675.1 579.6,676.2 580.5,677.4 581.5,678.5 582.5,679.7 583.5,680.8 584.5,681.9 585.6,683.0 586.6,684.1 587.7,685.2 588.8,686.3 589.9,687.4 591.0,688.5 592.1,689.5 593.2,690.6 594.4,691.6 595.6,692.7 596.8,693.7 598.0,694.7 599.2,695.7 600.5,696.7 601.7,697.7 603.0,698.6 604.3,699.5 605.5,700.4 606.8,701.3 608.2,702.2 609.5,703.0 610.8,703.8 612.1,704.6 613.5,705.4 614.9,706.1 616.2,706.8 617.6,707.5 619.0,708.1 620.4,708.7 621.8,709.3 623.1,709.9 624.6,710.4 626.0,710.8 627.4,711.2 628.8,711.6 630.2,712.0 631.6,712.3 633.0,712.6 634.5,712.9 635.9,713.1 637.3,713.4 638.7,713.6 640.1,713.8 641.6,714.1 643.0,714.3 644.4,714.5 645.8,714.8 647.2,715.1 648.6,715.4 650.0,715.7 651.4,716.1 652.8,716.5 654.2,717.0 655.6,717.4 657.0,717.9 658.4,718.4 659.7,719.0 661.1,719.5 662.5,720.1 663.8,720.7 665.2,721.3 666.5,722.0 667.9,722.6 669.3,723.3 670.6,724.0 672.0,724.7 673.3,725.4 674.6,726.2 676.0,726.9 677.3,727.6 678.7,728.4 680.0,729.1 681.3,729.9 682.7,730.6 684.0,731.4 685.3,732.2 686.7,732.9 688.0,733.7 689.3,734.4 690.7,735.2 692.0,735.9 693.3,736.6 694.7,737.4 696.0,738.1 697.3,738.8 698.7,739.5 700.0,740.2 701.4,740.9 702.7,741.5 704.0,742.2 705.4,742.8 706.7,743.5 708.1,744.1 709.4,744.8 710.8,745.4 712.1,746.0 713.5,746.6 714.8,747.2 716.2,747.8 717.6,748.3 718.9,748.9 720.3,749.4 721.7,750.0 723.1,750.5 724.4,751.0 725.8,751.5 727.2,752.0 728.6,752.5 730.0,753.0 731.4,753.4 732.8,753.9 734.2,754.3 735.7,754.7 737.1,755.1 738.5,755.5 739.9,755.9 741.4,756.3 742.8,756.6 744.3,757.0 745.7,757.3 747.2,757.6 748.6,758.0 750.1,758.3 751.6,758.6 753.0,758.8 754.5,759.1 756.0,759.4 757.5,759.6 759.0,759.9 760.5,760.1 761.9,760.4 763.4,760.6 764.9,760.8 766.4,761.0 767.9,761.2 769.4,761.4 770.9,761.6 772.4,761.8 774.0,762.0 775.5,762.2 777.0,762.3 778.5,762.5 780.0,762.7 781.5,762.8 783.0,763.0 784.6,763.1 786.1,763.2 787.6,763.4 789.1,763.5 790.6,763.6 792.1,763.8 793.7,763.9 795.2,764.0 796.7,764.1 798.2,764.3 799.7,764.4 801.2,764.5 802.8,764.6 804.3,764.7 805.8,764.9 807.3,765.0 808.8,765.1 810.3,765.2 811.8,765.3 813.3,765.4 814.8,765.6 816.3,765.7 817.8,765.8 819.3,765.9 820.8,766.0 822.3,766.2 823.8,766.3 825.3,766.4 826.7,766.6 828.2,766.7 829.7,766.9 831.2,767.0 832.6,767.2 834.1,767.3 835.6,767.5 837.0,767.6 838.5,767.8 839.9,768.0" fill="none" stroke="#ee1111" stroke-width="7.5" stroke-linejoin="round" clip-path="url(#cb)"/><path d="M294.9,783.5L296.3,783.1 297.7,782.7 299.2,782.4 300.6,782.0 302.1,781.7 303.5,781.3 305.0,781.0 306.4,780.6 307.9,780.3 309.3,779.9 310.8,779.6 312.3,779.2 313.8,778.9 315.2,778.5 316.7,778.2 318.2,777.8 319.7,777.4 321.1,777.1 322.6,776.7 324.1,776.3 325.6,775.9 327.1,775.5 328.5,775.1 330.0,774.7 331.5,774.3 332.9,773.9 334.4,773.4 335.8,773.0 337.3,772.5 338.7,772.1 340.1,771.6 341.6,771.1 343.0,770.6 344.4,770.0 345.8,769.5 347.2,769.0 348.6,768.4 349.9,767.8 351.3,767.2 352.6,766.6 354.0,765.9 355.3,765.3 356.6,764.6 357.9,763.9 359.2,763.2 360.5,762.4 361.7,761.7 363.0,760.9 364.2,760.1 365.4,759.3 366.6,758.4 367.8,757.5 368.9,756.6 370.0,755.7 371.2,754.8 372.3,753.8 373.4,752.8 374.4,751.7 375.5,750.7 376.5,749.6 377.5,748.5 378.5,747.4 379.5,746.3 380.5,745.2 381.5,744.0 382.4,742.8 383.3,741.6 384.2,740.4 385.2,739.2 386.1,737.9 386.9,736.7 387.8,735.4 388.7,734.2 389.5,732.9 390.4,731.6 391.2,730.3 392.0,729.0 392.8,727.7 393.6,726.3 394.4,725.0 395.2,723.7 396.0,722.4 396.8,721.0 397.5,719.7 398.3,718.4 399.0,717.0 399.8,715.7 400.5,714.3 401.3,713.0 402.0,711.7 402.7,710.4 403.5,709.0 404.2,707.7 404.9,706.4 405.6,705.1 406.3,703.8 407.0,702.4 407.8,701.1 408.5,699.8 409.2,698.5 409.9,697.2 410.6,695.9 411.2,694.6 411.9,693.3 412.6,692.0 413.3,690.7 414.0,689.4 414.7,688.1 415.3,686.8 416.0,685.4 416.7,684.1 417.4,682.8 418.0,681.5 418.7,680.2 419.4,678.9 420.0,677.6 420.7,676.3 421.4,675.0 422.0,673.6 422.7,672.3 423.4,671.0 424.0,669.7 424.7,668.3 425.4,667.0 426.0,665.6 426.7,664.3 427.3,663.0 428.0,661.6 428.7,660.2 429.3,658.9 430.0,657.5 430.7,656.2 431.3,654.8 432.0,653.4 432.7,652.1 433.4,650.7 434.0,649.3 434.7,647.9 435.4,646.6 436.1,645.2 436.8,643.8 437.6,642.5 438.3,641.1 439.0,639.7 439.8,638.4 440.5,637.0 441.3,635.7 442.0,634.3 442.8,633.0 443.6,631.6 444.4,630.3 445.3,629.0 446.1,627.7 447.0,626.4 447.8,625.1 448.7,623.8 449.6,622.5 450.5,621.2 451.4,620.0 452.4,618.8 453.4,617.5 454.3,616.4 455.4,615.2 456.4,614.1 457.4,613.0 458.5,611.9 459.6,610.9 460.7,610.0 461.8,609.0 463.0,608.2 464.2,607.4 465.4,606.6 466.6,605.9 467.9,605.3 469.1,604.8 470.4,604.3 471.8,603.9 473.1,603.5 474.5,603.3 475.9,603.1 477.4,602.9 478.8,602.9 480.3,602.9 481.7,602.9 483.2,603.1 484.7,603.2 486.2,603.5 487.7,603.7 489.3,604.1 490.8,604.4 492.3,604.9 493.8,605.3 495.3,605.8 496.8,606.4 498.3,606.9 499.8,607.5 501.2,608.2 502.7,608.8 504.1,609.5 505.5,610.2 506.9,610.9 508.3,611.7 509.6,612.4 511.0,613.2 512.3,614.0 513.5,614.8 514.8,615.6 516.0,616.5 517.3,617.3 518.5,618.2 519.7,619.1 520.8,620.0 522.0,620.9 523.2,621.8 524.3,622.7 525.4,623.6 526.6,624.6 527.7,625.5 528.8,626.5 529.9,627.4 531.0,628.4 532.0,629.4 533.1,630.4 534.2,631.4 535.3,632.3 536.3,633.3 537.4,634.3 538.5,635.3 539.6,636.3 540.6,637.4 541.7,638.4 542.8,639.4 543.9,640.4 545.0,641.4 546.1,642.4 547.2,643.4 548.3,644.4 549.4,645.4 550.6,646.4 551.7,647.4 552.8,648.4 554.0,649.4 555.2,650.4 556.3,651.3 557.5,652.3 558.7,653.3 559.9,654.2 561.1,655.2 562.3,656.1 563.5,657.0 564.7,657.9 566.0,658.8 567.2,659.7 568.5,660.6 569.7,661.5 571.0,662.3 572.3,663.2 573.6,664.0 574.9,664.8 576.2,665.6 577.5,666.4 578.8,667.1 580.1,667.9 581.4,668.6 582.8,669.3 584.1,670.0 585.5,670.7 586.9,671.3 588.3,672.0 589.6,672.6 591.0,673.2 592.4,673.7 593.9,674.3 595.3,674.8 596.7,675.3 598.1,675.8 599.6,676.2 601.0,676.6 602.5,677.0 604.0,677.4 605.4,677.8 606.9,678.2 608.4,678.5 609.9,678.8 611.4,679.2 612.9,679.5 614.3,679.8 615.8,680.1 617.3,680.4 618.8,680.7 620.3,681.0 621.8,681.3 623.3,681.7 624.7,682.0 626.2,682.3 627.7,682.7 629.1,683.0 630.6,683.4 632.0,683.8 633.5,684.1 634.9,684.6 636.3,685.0 637.7,685.5 639.1,685.9 640.5,686.5 641.9,687.0 643.2,687.6 644.6,688.2 645.9,688.8 647.2,689.4 648.5,690.1 649.8,690.9 651.1,691.6 652.3,692.4 653.6,693.3 654.8,694.1 656.0,695.0 657.2,695.9 658.4,696.8 659.5,697.8 660.7,698.7 661.9,699.7 663.0,700.7 664.1,701.7 665.3,702.7 666.4,703.8 667.5,704.8 668.6,705.9 669.7,706.9 670.8,708.0 671.9,709.0 672.9,710.1 674.0,711.1 675.1,712.2 676.2,713.2 677.3,714.3 678.4,715.3 679.5,716.3 680.6,717.3 681.8,718.3 682.9,719.3 684.0,720.3 685.2,721.2 686.4,722.2 687.5,723.1 688.7,724.0 689.9,724.9 691.1,725.8 692.3,726.7 693.6,727.6 694.8,728.4 696.0,729.3 697.3,730.1 698.5,730.9 699.8,731.7 701.1,732.5 702.4,733.2 703.7,734.0 705.0,734.7 706.3,735.4 707.6,736.1 708.9,736.8 710.2,737.5 711.6,738.1 712.9,738.7 714.3,739.4 715.6,740.0 717.0,740.5 718.4,741.1 719.7,741.7 721.1,742.2 722.5,742.7 723.9,743.2 725.3,743.7 726.7,744.2 728.1,744.7 729.6,745.1 731.0,745.5 732.4,746.0 733.8,746.4 735.3,746.8 736.7,747.1 738.2,747.5 739.6,747.9 741.1,748.2 742.6,748.5 744.0,748.9 745.5,749.2 747.0,749.5 748.5,749.8 750.0,750.0 751.4,750.3 752.9,750.6 754.4,750.8 755.9,751.1 757.4,751.3 758.9,751.5 760.4,751.8 761.9,752.0 763.4,752.2 764.9,752.4 766.5,752.6 768.0,752.8 769.5,753.0 771.0,753.1 772.5,753.3 774.0,753.5 775.6,753.6 777.1,753.8 778.6,754.0 780.1,754.1 781.7,754.3 783.2,754.4 784.7,754.6 786.2,754.7 787.8,754.9 789.3,755.0 790.8,755.1 792.3,755.3 793.8,755.4 795.4,755.5 796.9,755.7 798.4,755.8 799.9,756.0 801.4,756.1 802.9,756.3 804.5,756.4 806.0,756.5 807.5,756.7 809.0,756.8 810.5,757.0 812.0,757.2 813.5,757.3 815.0,757.5 816.5,757.7 818.0,757.8 819.4,758.0 820.9,758.2 822.4,758.4 823.9,758.6 825.4,758.8 826.8,759.0 828.3,759.2 829.7,759.4 831.2,759.7 832.6,759.9 834.1,760.2 835.5,760.4 837.0,760.7 838.4,761.0 839.8,761.2" fill="none" stroke="#05f510" stroke-width="8" stroke-linejoin="round" clip-path="url(#cb)"/><path d="M329.9,1181.8L331.2,1181.1 332.5,1180.4 333.8,1179.7 335.2,1179.0 336.5,1178.3 337.8,1177.7 339.2,1177.0 340.5,1176.3 341.9,1175.6 343.2,1174.9 344.6,1174.2 345.9,1173.5 347.3,1172.8 348.6,1172.1 350.0,1171.4 351.3,1170.6 352.7,1169.9 354.0,1169.1 355.3,1168.4 356.6,1167.6 357.9,1166.9 359.2,1166.1 360.5,1165.3 361.8,1164.5 363.0,1163.6 364.3,1162.8 365.5,1161.9 366.7,1161.1 367.9,1160.2 369.1,1159.3 370.2,1158.3 371.3,1157.4 372.5,1156.4 373.6,1155.4 374.6,1154.4 375.7,1153.4 376.7,1152.3 377.7,1151.3 378.7,1150.2 379.6,1149.0 380.5,1147.9 381.4,1146.7 382.3,1145.5 383.1,1144.2 383.9,1143.0 384.7,1141.7 385.5,1140.4 386.2,1139.1 386.9,1137.8 387.6,1136.4 388.3,1135.1 388.9,1133.7 389.6,1132.3 390.2,1130.9 390.8,1129.5 391.4,1128.0 392.0,1126.6 392.5,1125.2 393.1,1123.7 393.6,1122.3 394.2,1120.8 394.7,1119.4 395.2,1117.9 395.7,1116.5 396.2,1115.0 396.7,1113.6 397.1,1112.1 397.6,1110.7 398.1,1109.3 398.6,1107.8 399.0,1106.4 399.5,1104.9 400.0,1103.5 400.4,1102.1 400.9,1100.6 401.3,1099.2 401.8,1097.8 402.2,1096.4 402.7,1094.9 403.1,1093.5 403.6,1092.1 404.1,1090.7 404.5,1089.3 405.0,1087.9 405.4,1086.5 405.9,1085.0 406.4,1083.6 406.8,1082.2 407.3,1080.8 407.8,1079.4 408.3,1078.0 408.8,1076.6 409.3,1075.2 409.8,1073.8 410.3,1072.4 410.8,1071.0 411.3,1069.6 411.9,1068.2 412.4,1066.8 413.0,1065.4 413.5,1064.1 414.1,1062.7 414.7,1061.3 415.3,1059.9 415.9,1058.5 416.5,1057.1 417.1,1055.7 417.8,1054.3 418.4,1052.9 419.1,1051.6 419.8,1050.2 420.5,1048.8 421.2,1047.4 421.9,1046.0 422.7,1044.7 423.4,1043.3 424.2,1042.0 425.0,1040.7 425.9,1039.4 426.7,1038.1 427.6,1036.9 428.5,1035.7 429.5,1034.5 430.5,1033.4 431.5,1032.3 432.5,1031.2 433.6,1030.2 434.7,1029.3 435.9,1028.4 437.1,1027.5 438.3,1026.7 439.6,1026.0 440.9,1025.4 442.2,1024.8 443.6,1024.3 445.0,1023.8 446.5,1023.4 447.9,1023.1 449.4,1022.8 450.9,1022.6 452.4,1022.5 454.0,1022.4 455.5,1022.4 457.0,1022.4 458.5,1022.5 460.0,1022.7 461.5,1022.9 463.0,1023.2 464.5,1023.6 465.9,1024.0 467.3,1024.5 468.7,1025.0 470.1,1025.6 471.4,1026.2 472.8,1026.9 474.1,1027.6 475.4,1028.3 476.7,1029.1 477.9,1030.0 479.2,1030.8 480.4,1031.7 481.7,1032.6 482.9,1033.5 484.2,1034.4 485.4,1035.3 486.6,1036.2 487.8,1037.2 489.0,1038.1 490.3,1039.0 491.5,1039.9 492.7,1040.9 493.9,1041.8 495.2,1042.6 496.4,1043.5 497.6,1044.4 498.9,1045.2 500.1,1046.1 501.4,1046.9 502.6,1047.8 503.9,1048.6 505.1,1049.4 506.4,1050.2 507.7,1051.0 508.9,1051.8 510.2,1052.6 511.5,1053.4 512.7,1054.1 514.0,1054.9 515.3,1055.7 516.6,1056.4 517.8,1057.2 519.1,1057.9 520.4,1058.6 521.7,1059.4 523.0,1060.1 524.3,1060.8 525.6,1061.6 526.9,1062.3 528.2,1063.0 529.5,1063.7 530.8,1064.4 532.1,1065.1 533.4,1065.8 534.7,1066.5 536.1,1067.2 537.4,1067.9 538.7,1068.6 540.0,1069.4 541.4,1070.1 542.7,1070.8 544.0,1071.5 545.4,1072.2 546.7,1072.9 548.0,1073.7 549.4,1074.4 550.7,1075.2 552.1,1075.9 553.4,1076.7 554.8,1077.4 556.1,1078.2 557.5,1079.0 558.9,1079.8 560.2,1080.6 561.6,1081.4 563.0,1082.2 564.3,1082.9 565.7,1083.7 567.1,1084.4 568.5,1085.1 569.9,1085.7 571.3,1086.3 572.7,1086.9 574.1,1087.4 575.5,1087.9 576.9,1088.3 578.3,1088.6 579.7,1088.9 581.1,1089.1 582.5,1089.3 583.9,1089.3 585.3,1089.4 586.7,1089.3 588.1,1089.2 589.5,1089.0 590.8,1088.7 592.2,1088.3 593.6,1087.9 595.0,1087.4 596.3,1086.8 597.7,1086.0 599.0,1085.2 600.4,1084.4 601.7,1083.4 603.0,1082.4 604.3,1081.4 605.6,1080.3 606.9,1079.2 608.2,1078.1 609.4,1076.9 610.7,1075.8 611.9,1074.7 613.1,1073.6 614.3,1072.5 615.5,1071.5 616.7,1070.5 617.9,1069.5 619.0,1068.6 620.2,1067.7 621.4,1066.8 622.5,1066.0 623.7,1065.2 624.9,1064.4 626.1,1063.7 627.3,1063.0 628.6,1062.4 629.8,1061.9 631.1,1061.5 632.4,1061.2 633.8,1061.2 635.2,1061.3 636.6,1061.6 638.0,1062.1 639.4,1062.7 640.9,1063.3 642.3,1064.1 643.6,1064.8 645.0,1065.7 646.3,1066.5 647.6,1067.3 648.8,1068.2 650.0,1069.1 651.1,1070.1 652.1,1071.1 653.1,1072.1 654.1,1073.2 655.0,1074.3 655.8,1075.5 656.6,1076.8 657.3,1078.0 658.0,1079.4 658.7,1080.7 659.3,1082.1 659.9,1083.5 660.5,1084.9 661.1,1086.3 661.6,1087.8 662.2,1089.2 662.8,1090.6 663.4,1092.0 664.0,1093.3 664.6,1094.7 665.3,1096.0 665.9,1097.3 666.6,1098.6 667.3,1099.9 668.0,1101.2 668.8,1102.5 669.6,1103.7 670.4,1104.9 671.2,1106.1 672.0,1107.3 672.9,1108.5 673.9,1109.7 674.8,1110.8 675.8,1112.0 676.8,1113.1 677.9,1114.2 679.0,1115.3 680.1,1116.4 681.2,1117.4 682.3,1118.5 683.4,1119.5 684.6,1120.5 685.7,1121.5 686.9,1122.5 688.1,1123.5 689.3,1124.5 690.5,1125.4 691.7,1126.3 692.9,1127.3 694.1,1128.2 695.3,1129.0 696.5,1129.9 697.8,1130.8 699.0,1131.6 700.3,1132.4 701.5,1133.3 702.8,1134.1 704.1,1134.9 705.3,1135.6 706.6,1136.4 707.9,1137.1 709.2,1137.9 710.5,1138.6 711.8,1139.3 713.2,1140.0 714.5,1140.6 715.8,1141.3 717.2,1141.9 718.5,1142.6 719.9,1143.2 721.3,1143.8 722.6,1144.4 724.0,1145.0 725.4,1145.5 726.8,1146.1 728.2,1146.6 729.6,1147.1 731.0,1147.6 732.4,1148.1 733.8,1148.6 735.2,1149.0 736.7,1149.4 738.1,1149.9 739.5,1150.3 741.0,1150.6 742.4,1151.0 743.9,1151.4 745.3,1151.7 746.8,1152.0 748.3,1152.3 749.7,1152.6 751.2,1152.9 752.7,1153.1 754.1,1153.3 755.6,1153.6 757.1,1153.8 758.6,1154.0 760.1,1154.1 761.6,1154.3 763.1,1154.4 764.6,1154.6 766.1,1154.7 767.6,1154.8 769.1,1154.9 770.6,1155.0 772.1,1155.1 773.6,1155.1 775.1,1155.2 776.6,1155.3 778.2,1155.3 779.7,1155.3 781.2,1155.4 782.7,1155.4 784.2,1155.4 785.8,1155.5 787.3,1155.5 788.8,1155.5 790.3,1155.5 791.9,1155.5 793.4,1155.5 794.9,1155.5 796.4,1155.5 798.0,1155.5 799.5,1155.5 801.0,1155.5 802.5,1155.6 804.0,1155.6 805.6,1155.6 807.1,1155.6 808.6,1155.6 810.1,1155.6 811.6,1155.7 813.1,1155.7 814.7,1155.8 816.2,1155.8 817.7,1155.9 819.2,1155.9 820.7,1156.0 822.2,1156.1 823.7,1156.2 825.2,1156.3 826.7,1156.4 828.2,1156.6 829.7,1156.7 831.1,1156.8 832.6,1157.0 834.1,1157.2 835.6,1157.4 837.1,1157.6 838.5,1157.8 840.0,1158.1" fill="none" stroke="#0000f0" stroke-width="7.5" stroke-linejoin="round" clip-path="url(#cc)"/><path d="M350.0,1181.9L351.3,1180.9 352.5,1180.0 353.8,1179.2 355.1,1178.4 356.5,1177.7 357.8,1177.1 359.2,1176.6 360.5,1176.1 361.9,1175.6 363.3,1175.2 364.8,1174.8 366.2,1174.5 367.6,1174.1 369.1,1173.9 370.5,1173.6 372.0,1173.3 373.5,1173.1 375.0,1172.9 376.5,1172.6 378.0,1172.4 379.5,1172.1 381.0,1171.8 382.6,1171.5 384.1,1171.2 385.6,1170.9 387.1,1170.5 388.5,1170.1 390.0,1169.6 391.4,1169.1 392.7,1168.5 394.1,1167.8 395.3,1167.1 396.5,1166.3 397.7,1165.5 398.8,1164.6 399.9,1163.6 400.9,1162.6 401.9,1161.5 402.8,1160.4 403.7,1159.2 404.5,1158.0 405.3,1156.7 406.1,1155.4 406.9,1154.1 407.6,1152.8 408.3,1151.4 408.9,1150.0 409.6,1148.6 410.2,1147.2 410.8,1145.7 411.4,1144.3 411.9,1142.9 412.5,1141.4 413.1,1140.0 413.6,1138.6 414.1,1137.1 414.7,1135.7 415.2,1134.3 415.7,1132.8 416.2,1131.4 416.6,1130.0 417.1,1128.6 417.6,1127.1 418.0,1125.7 418.5,1124.3 418.9,1122.9 419.3,1121.4 419.8,1120.0 420.2,1118.6 420.6,1117.2 421.0,1115.7 421.4,1114.3 421.7,1112.9 422.1,1111.4 422.5,1110.0 422.8,1108.5 423.2,1107.1 423.5,1105.7 423.9,1104.2 424.2,1102.8 424.5,1101.3 424.9,1099.9 425.2,1098.4 425.5,1097.0 425.8,1095.5 426.1,1094.0 426.4,1092.6 426.7,1091.1 427.0,1089.6 427.3,1088.1 427.6,1086.6 427.9,1085.2 428.2,1083.7 428.4,1082.2 428.7,1080.7 429.0,1079.2 429.3,1077.7 429.5,1076.1 429.8,1074.6 430.1,1073.1 430.3,1071.6 430.6,1070.1 430.8,1068.6 431.1,1067.1 431.4,1065.6 431.6,1064.1 431.9,1062.6 432.1,1061.1 432.4,1059.6 432.7,1058.2 432.9,1056.7 433.2,1055.2 433.4,1053.8 433.7,1052.3 434.0,1050.9 434.2,1049.4 434.5,1048.0 434.8,1046.6 435.0,1045.2 435.3,1043.8 435.6,1042.3 435.9,1040.9 436.1,1039.4 436.4,1038.0 436.7,1036.5 437.0,1035.0 437.3,1033.5 437.6,1032.0 437.9,1030.4 438.3,1028.9 438.7,1027.4 439.0,1025.8 439.5,1024.3 439.9,1022.8 440.4,1021.3 440.9,1019.8 441.5,1018.4 442.1,1017.0 442.8,1015.6 443.5,1014.2 444.3,1012.9 445.2,1011.7 446.1,1010.5 447.1,1009.4 448.2,1008.3 449.3,1007.3 450.5,1006.4 451.7,1005.7 453.0,1005.1 454.4,1004.8 455.7,1004.7 457.1,1004.9 458.5,1005.3 459.9,1006.0 461.2,1006.8 462.6,1007.8 463.9,1008.8 465.2,1009.9 466.4,1011.0 467.6,1012.1 468.7,1013.2 469.8,1014.3 470.9,1015.4 471.9,1016.5 472.9,1017.6 473.8,1018.7 474.8,1019.8 475.7,1020.9 476.6,1022.0 477.4,1023.2 478.3,1024.3 479.1,1025.4 480.0,1026.6 480.8,1027.7 481.6,1028.9 482.4,1030.0 483.3,1031.2 484.1,1032.3 484.9,1033.5 485.8,1034.7 486.6,1035.9 487.5,1037.1 488.4,1038.3 489.3,1039.5 490.2,1040.7 491.1,1041.9 492.0,1043.1 492.9,1044.3 493.9,1045.5 494.8,1046.7 495.8,1047.9 496.8,1049.1 497.8,1050.3 498.8,1051.5 499.8,1052.6 500.9,1053.8 501.9,1054.9 503.0,1056.1 504.0,1057.2 505.1,1058.3 506.2,1059.4 507.3,1060.5 508.5,1061.6 509.6,1062.6 510.8,1063.6 511.9,1064.6 513.1,1065.6 514.3,1066.6 515.5,1067.5 516.8,1068.4 518.0,1069.3 519.3,1070.2 520.5,1071.0 521.8,1071.8 523.1,1072.6 524.4,1073.3 525.8,1074.0 527.1,1074.7 528.5,1075.4 529.9,1076.0 531.3,1076.5 532.7,1077.1 534.1,1077.6 535.5,1078.0 537.0,1078.4 538.5,1078.8 539.9,1079.1 541.4,1079.4 542.9,1079.7 544.4,1079.9 545.9,1080.0 547.4,1080.1 548.9,1080.1 550.3,1080.1 551.8,1080.1 553.3,1080.0 554.7,1079.8 556.2,1079.6 557.6,1079.3 559.0,1079.0 560.4,1078.6 561.8,1078.2 563.1,1077.7 564.5,1077.1 565.8,1076.5 567.0,1075.8 568.3,1075.0 569.5,1074.2 570.7,1073.3 571.8,1072.4 572.9,1071.3 574.0,1070.3 575.0,1069.2 576.0,1068.0 577.0,1066.8 578.0,1065.6 578.9,1064.3 579.8,1063.0 580.7,1061.7 581.6,1060.4 582.5,1059.1 583.3,1057.8 584.1,1056.4 584.9,1055.1 585.7,1053.8 586.5,1052.4 587.2,1051.1 588.0,1049.8 588.8,1048.4 589.5,1047.1 590.2,1045.8 591.0,1044.5 591.7,1043.2 592.5,1041.8 593.2,1040.5 593.9,1039.2 594.7,1037.9 595.4,1036.6 596.1,1035.3 596.9,1034.1 597.6,1032.8 598.3,1031.5 599.0,1030.2 599.7,1028.9 600.4,1027.6 601.1,1026.3 601.8,1025.0 602.5,1023.7 603.2,1022.4 603.9,1021.1 604.5,1019.8 605.2,1018.5 605.8,1017.1 606.5,1015.8 607.1,1014.4 607.7,1013.1 608.3,1011.7 608.9,1010.3 609.5,1008.9 610.1,1007.5 610.6,1006.1 611.2,1004.7 611.7,1003.3 612.2,1001.8 612.7,1000.3 613.2,998.9 613.7,997.4 614.2,995.9 614.7,994.4 615.2,992.9 615.7,991.4 616.2,989.9 616.7,988.4 617.3,987.0 617.9,985.6 618.6,984.2 619.3,982.8 620.1,981.5 620.9,980.3 621.7,979.0 622.7,977.9 623.7,976.7 624.8,975.7 625.9,974.7 627.2,973.8 628.5,972.9 629.9,972.2 631.3,971.7 632.6,971.4 634.0,971.3 635.2,971.5 636.5,971.9 637.6,972.5 638.7,973.3 639.8,974.3 640.8,975.4 641.8,976.7 642.7,978.0 643.5,979.5 644.3,981.0 645.1,982.5 645.8,984.0 646.5,985.6 647.1,987.1 647.6,988.6 648.2,990.1 648.7,991.6 649.1,993.2 649.5,994.6 649.9,996.1 650.3,997.6 650.6,999.1 650.9,1000.6 651.2,1002.0 651.5,1003.5 651.7,1005.0 651.9,1006.4 652.2,1007.9 652.4,1009.3 652.6,1010.8 652.8,1012.2 652.9,1013.7 653.1,1015.1 653.3,1016.6 653.5,1018.0 653.7,1019.5 653.9,1020.9 654.1,1022.4 654.3,1023.8 654.5,1025.3 654.7,1026.7 654.9,1028.2 655.2,1029.6 655.4,1031.1 655.7,1032.6 655.9,1034.0 656.2,1035.5 656.4,1036.9 656.7,1038.4 657.0,1039.8 657.3,1041.3 657.6,1042.8 657.9,1044.2 658.2,1045.7 658.5,1047.2 658.8,1048.6 659.1,1050.1 659.4,1051.6 659.8,1053.0 660.1,1054.5 660.4,1056.0 660.8,1057.4 661.1,1058.9 661.4,1060.4 661.8,1061.8 662.1,1063.3 662.5,1064.8 662.9,1066.3 663.2,1067.7 663.6,1069.2 664.0,1070.7 664.3,1072.1 664.7,1073.6 665.1,1075.1 665.4,1076.6 665.8,1078.0 666.2,1079.5 666.6,1081.0 667.0,1082.5 667.4,1083.9 667.7,1085.4 668.1,1086.9 668.5,1088.4 668.9,1089.8 669.3,1091.3 669.7,1092.8 670.1,1094.3 670.4,1095.8 670.8,1097.2 671.2,1098.7 671.6,1100.2 672.0,1101.7 672.4,1103.1 672.8,1104.6 673.2,1106.1 673.6,1107.5 674.1,1109.0 674.5,1110.4 674.9,1111.9 675.3,1113.3 675.8,1114.8 676.2,1116.2 676.7,1117.7 677.1,1119.1 677.6,1120.5 678.1,1122.0 678.6,1123.4 679.1,1124.8 679.6,1126.2 680.1,1127.6 680.6,1129.0 681.1,1130.4 681.7,1131.7 682.2,1133.1 682.8,1134.5 683.4,1135.8 683.9,1137.2 684.5,1138.5 685.2,1139.8 685.8,1141.1 686.4,1142.5 687.1,1143.7 687.8,1145.0 688.5,1146.3 689.2,1147.5 690.0,1148.7 690.8,1149.9 691.7,1151.1 692.6,1152.3 693.5,1153.4 694.5,1154.5 695.6,1155.5 696.7,1156.5 697.9,1157.5 699.1,1158.4 700.4,1159.3 701.8,1160.2 703.1,1161.0 704.6,1161.7 706.0,1162.4 707.4,1163.1 708.8,1163.7 710.3,1164.2 711.7,1164.7 713.2,1165.2 714.6,1165.6 716.1,1166.0 717.5,1166.3 719.0,1166.6 720.4,1166.9 721.9,1167.1 723.3,1167.3 724.8,1167.5 726.3,1167.6 727.8,1167.7 729.2,1167.8 730.7,1167.9 732.2,1168.0 733.7,1168.0 735.1,1168.0 736.6,1168.1 738.1,1168.1 739.6,1168.1 741.1,1168.1 742.6,1168.0 744.1,1168.0 745.6,1168.0 747.1,1168.0 748.6,1168.0 750.1,1168.0 751.6,1168.0 753.1,1168.0 754.6,1168.0 756.1,1168.1 757.6,1168.1 759.1,1168.1 760.7,1168.2 762.2,1168.2 763.7,1168.3 765.2,1168.4 766.7,1168.4 768.2,1168.5 769.7,1168.6 771.3,1168.7 772.8,1168.7 774.3,1168.8 775.8,1168.9 777.3,1169.0 778.9,1169.1 780.4,1169.2 781.9,1169.3 783.4,1169.4 784.9,1169.5 786.5,1169.6 788.0,1169.7 789.5,1169.8 791.0,1169.9 792.5,1170.0 794.1,1170.1 795.6,1170.2 797.1,1170.3 798.6,1170.4 800.1,1170.5 801.6,1170.6 803.2,1170.7 804.7,1170.8 806.2,1170.9 807.7,1171.0 809.2,1171.1 810.7,1171.2 812.2,1171.3 813.7,1171.3 815.2,1171.4 816.7,1171.5 818.2,1171.6 819.7,1171.6 821.2,1171.7 822.7,1171.7 824.2,1171.8 825.7,1171.8 827.2,1171.8 828.7,1171.8 830.2,1171.9 831.7,1171.9 833.2,1171.9 834.6,1171.9 836.1,1171.8 837.6,1171.8 839.1,1171.8 840.5,1171.7 842.0,1171.7 843.5,1171.6 844.9,1171.6" fill="none" stroke="#00f5f5" stroke-width="7.5" stroke-linejoin="round" clip-path="url(#cc)"/><path d="M340.1,1182.0L341.2,1181.1 342.3,1180.2 343.5,1179.4 344.6,1178.5 345.8,1177.6 347.0,1176.7 348.2,1175.9 349.5,1175.0 350.7,1174.1 352.0,1173.3 353.3,1172.4 354.5,1171.6 355.8,1170.8 357.2,1170.0 358.5,1169.2 359.8,1168.4 361.1,1167.6 362.5,1166.8 363.8,1166.0 365.1,1165.2 366.5,1164.5 367.8,1163.8 369.1,1163.0 370.4,1162.3 371.8,1161.6 373.1,1160.9 374.4,1160.2 375.7,1159.6 376.9,1158.9 378.2,1158.2 379.5,1157.5 380.7,1156.8 381.9,1156.0 383.1,1155.3 384.3,1154.5 385.5,1153.7 386.6,1152.9 387.7,1152.0 388.8,1151.1 389.9,1150.1 390.9,1149.1 391.9,1148.1 392.9,1147.0 393.9,1145.8 394.8,1144.7 395.7,1143.5 396.6,1142.2 397.5,1141.0 398.4,1139.7 399.2,1138.4 400.1,1137.1 400.9,1135.8 401.7,1134.4 402.5,1133.1 403.3,1131.8 404.1,1130.4 404.9,1129.1 405.7,1127.8 406.5,1126.5 407.2,1125.2 408.0,1123.9 408.8,1122.6 409.6,1121.4 410.4,1120.1 411.2,1118.9 412.0,1117.7 412.7,1116.4 413.5,1115.2 414.3,1114.0 415.1,1112.8 415.9,1111.6 416.7,1110.4 417.5,1109.2 418.3,1108.0 419.2,1106.8 420.0,1105.6 420.8,1104.4 421.6,1103.2 422.5,1102.0 423.3,1100.7 424.1,1099.5 425.0,1098.3 425.8,1097.1 426.7,1095.8 427.6,1094.6 428.5,1093.4 429.3,1092.1 430.2,1090.9 431.1,1089.7 432.0,1088.4 433.0,1087.2 433.9,1086.0 434.8,1084.8 435.8,1083.5 436.7,1082.3 437.7,1081.1 438.7,1079.9 439.7,1078.8 440.7,1077.6 441.7,1076.4 442.7,1075.3 443.8,1074.2 444.8,1073.0 445.9,1071.9 447.0,1070.9 448.1,1069.8 449.2,1068.8 450.3,1067.7 451.4,1066.7 452.6,1065.8 453.7,1064.8 454.9,1063.9 456.1,1062.9 457.3,1062.1 458.5,1061.2 459.8,1060.3 461.0,1059.5 462.3,1058.7 463.5,1057.9 464.8,1057.1 466.1,1056.4 467.4,1055.6 468.7,1054.9 470.0,1054.2 471.4,1053.6 472.7,1052.9 474.0,1052.3 475.4,1051.7 476.8,1051.1 478.2,1050.6 479.5,1050.0 480.9,1049.5 482.3,1049.0 483.7,1048.5 485.2,1048.1 486.6,1047.6 488.0,1047.2 489.4,1046.8 490.9,1046.4 492.3,1046.1 493.8,1045.8 495.3,1045.4 496.7,1045.1 498.2,1044.9 499.7,1044.6 501.1,1044.4 502.6,1044.2 504.1,1044.0 505.6,1043.8 507.1,1043.7 508.6,1043.5 510.1,1043.4 511.6,1043.3 513.1,1043.2 514.6,1043.2 516.1,1043.2 517.6,1043.2 519.1,1043.2 520.6,1043.2 522.2,1043.2 523.7,1043.3 525.2,1043.4 526.7,1043.5 528.2,1043.6 529.7,1043.8 531.2,1044.0 532.7,1044.2 534.2,1044.4 535.7,1044.6 537.2,1044.8 538.7,1045.0 540.2,1045.2 541.7,1045.4 543.2,1045.5 544.7,1045.6 546.1,1045.7 547.6,1045.7 549.0,1045.6 550.4,1045.4 551.8,1045.1 553.2,1044.8 554.6,1044.3 556.0,1043.8 557.4,1043.1 558.7,1042.5 560.0,1041.7 561.3,1041.0 562.6,1040.2 563.9,1039.3 565.1,1038.5 566.3,1037.5 567.5,1036.6 568.7,1035.6 569.8,1034.6 570.9,1033.5 572.0,1032.4 573.1,1031.3 574.1,1030.2 575.1,1029.0 576.1,1027.8 577.0,1026.6 577.9,1025.3 578.8,1024.1 579.6,1022.8 580.4,1021.5 581.2,1020.1 581.9,1018.8 582.6,1017.4 583.3,1016.1 583.9,1014.7 584.6,1013.3 585.2,1011.9 585.7,1010.5 586.3,1009.1 586.8,1007.7 587.4,1006.3 587.9,1004.9 588.4,1003.5 588.9,1002.2 589.4,1000.8 589.9,999.4 590.4,998.1 590.9,996.7 591.4,995.4 591.9,994.1 592.4,992.8 592.9,991.5 593.5,990.2 594.0,989.0 594.6,987.7 595.2,986.4 595.8,985.0 596.5,983.7 597.1,982.3 597.8,980.9 598.5,979.5 599.3,978.0 600.1,976.5 600.9,974.9 601.8,973.4 602.7,971.9 603.6,970.5 604.6,969.1 605.7,967.9 606.8,966.9 607.9,966.0 609.1,965.4 610.4,965.1 611.6,965.1 612.8,965.4 614.0,966.1 615.2,967.0 616.3,968.1 617.3,969.3 618.1,970.6 618.9,972.0 619.6,973.4 620.3,974.8 620.8,976.2 621.3,977.7 621.8,979.1 622.3,980.6 622.7,982.0 623.2,983.5 623.6,985.0 624.1,986.4 624.5,987.9 625.0,989.3 625.4,990.8 625.8,992.3 626.2,993.7 626.6,995.2 627.0,996.6 627.4,998.1 627.8,999.6 628.2,1001.0 628.6,1002.5 629.0,1004.0 629.3,1005.4 629.7,1006.9 630.1,1008.3 630.4,1009.8 630.8,1011.3 631.1,1012.7 631.5,1014.2 631.8,1015.6 632.1,1017.1 632.5,1018.6 632.8,1020.0 633.1,1021.5 633.4,1022.9 633.7,1024.4 634.1,1025.9 634.4,1027.3 634.7,1028.8 635.0,1030.2 635.3,1031.7 635.6,1033.2 635.9,1034.6 636.2,1036.1 636.5,1037.5 636.7,1039.0 637.0,1040.5 637.3,1041.9 637.6,1043.4 637.9,1044.8 638.2,1046.3 638.5,1047.8 638.8,1049.2 639.1,1050.7 639.4,1052.1 639.7,1053.6 640.0,1055.0 640.3,1056.5 640.6,1058.0 641.0,1059.4 641.3,1060.9 641.6,1062.3 641.9,1063.8 642.3,1065.2 642.6,1066.7 643.0,1068.2 643.4,1069.6 643.7,1071.1 644.1,1072.5 644.5,1074.0 644.9,1075.4 645.3,1076.9 645.7,1078.3 646.1,1079.8 646.6,1081.2 647.0,1082.7 647.4,1084.1 647.9,1085.6 648.4,1087.0 648.8,1088.5 649.3,1089.9 649.8,1091.4 650.2,1092.8 650.7,1094.3 651.2,1095.7 651.6,1097.1 652.1,1098.6 652.5,1100.0 653.0,1101.4 653.4,1102.9 653.9,1104.3 654.3,1105.7 654.7,1107.1 655.1,1108.5 655.5,1109.9 655.9,1111.3 656.3,1112.7 656.7,1114.1 657.2,1115.4 657.6,1116.8 658.1,1118.2 658.7,1119.5 659.2,1120.9 659.9,1122.2 660.5,1123.6 661.3,1124.9 662.0,1126.2 662.9,1127.5 663.7,1128.8 664.6,1130.1 665.6,1131.3 666.5,1132.5 667.6,1133.7 668.6,1134.8 669.7,1136.0 670.8,1137.1 672.0,1138.1 673.1,1139.1 674.3,1140.1 675.6,1141.0 676.8,1141.9 678.1,1142.7 679.4,1143.5 680.7,1144.3 682.0,1145.0 683.4,1145.7 684.7,1146.3 686.1,1146.9 687.5,1147.5 688.9,1148.0 690.3,1148.6 691.7,1149.1 693.1,1149.6 694.5,1150.1 695.9,1150.5 697.3,1151.0 698.7,1151.4 700.1,1151.8 701.6,1152.2 703.0,1152.6 704.4,1152.9 705.8,1153.3 707.3,1153.6 708.7,1153.9 710.2,1154.2 711.6,1154.5 713.1,1154.8 714.5,1155.1 716.0,1155.3 717.4,1155.6 718.9,1155.8 720.4,1156.0 721.8,1156.2 723.3,1156.4 724.8,1156.6 726.3,1156.8 727.8,1157.0 729.2,1157.2 730.7,1157.3 732.2,1157.5 733.7,1157.6 735.2,1157.8 736.7,1157.9 738.2,1158.1 739.7,1158.2 741.2,1158.3 742.7,1158.4 744.2,1158.5 745.7,1158.7 747.2,1158.8 748.7,1158.9 750.2,1159.0 751.7,1159.1 753.2,1159.2 754.7,1159.3 756.2,1159.4 757.8,1159.5 759.3,1159.6 760.8,1159.7 762.3,1159.8 763.8,1159.8 765.3,1159.9 766.9,1160.0 768.4,1160.1 769.9,1160.2 771.4,1160.3 772.9,1160.4 774.5,1160.4 776.0,1160.5 777.5,1160.6 779.0,1160.7 780.5,1160.8 782.1,1160.8 783.6,1160.9 785.1,1161.0 786.6,1161.0 788.1,1161.1 789.7,1161.2 791.2,1161.3 792.7,1161.3 794.2,1161.4 795.7,1161.5 797.2,1161.5 798.8,1161.6 800.3,1161.6 801.8,1161.7 803.3,1161.8 804.8,1161.8 806.3,1161.9 807.8,1161.9 809.3,1162.0 810.8,1162.1 812.3,1162.1 813.8,1162.2 815.4,1162.2 816.8,1162.3 818.3,1162.3 819.8,1162.4 821.3,1162.4 822.8,1162.5 824.3,1162.5 825.8,1162.6 827.3,1162.6 828.8,1162.7 830.2,1162.7 831.7,1162.8 833.2,1162.8 834.7,1162.9 836.1,1162.9 837.6,1163.0 839.1,1163.0 840.5,1163.1 842.0,1163.1 843.5,1163.1 844.9,1163.2" fill="none" stroke="#880000" stroke-width="7.5" stroke-linejoin="round" clip-path="url(#cc)"/><path d="M833.6,1160 L833.6,1133.5" fill="none" stroke="#880000" stroke-width="5" stroke-linecap="round"/><path d="M249.5,1181.0L251.0,1180.6 252.5,1180.2 254.1,1179.9 255.6,1179.5 257.1,1179.1 258.7,1178.8 260.2,1178.5 261.7,1178.2 263.3,1177.9 264.8,1177.6 266.3,1177.3 267.8,1177.1 269.3,1176.8 270.9,1176.6 272.4,1176.3 273.9,1176.1 275.4,1175.9 276.9,1175.7 278.4,1175.5 279.9,1175.3 281.4,1175.1 282.9,1175.0 284.4,1174.8 286.0,1174.7 287.5,1174.5 289.0,1174.4 290.5,1174.2 292.0,1174.1 293.5,1174.0 295.0,1173.8 296.4,1173.7 297.9,1173.6 299.4,1173.5 300.9,1173.4 302.4,1173.3 303.9,1173.2 305.4,1173.1 306.9,1173.0 308.4,1172.9 309.9,1172.8 311.3,1172.7 312.8,1172.6 314.3,1172.5 315.8,1172.4 317.3,1172.3 318.8,1172.2 320.2,1172.1 321.7,1172.0 323.2,1171.9 324.7,1171.8 326.1,1171.7 327.6,1171.6 329.1,1171.5 330.6,1171.4 332.0,1171.3 333.5,1171.1 335.0,1171.0 336.4,1170.9 337.9,1170.7 339.4,1170.6 340.8,1170.4 342.3,1170.2 343.8,1170.1 345.2,1169.9 346.7,1169.7 348.2,1169.5 349.6,1169.3 351.1,1169.1 352.6,1168.9 354.0,1168.6 355.5,1168.4 356.9,1168.1 358.4,1167.9 359.9,1167.6 361.3,1167.3 362.8,1167.0 364.2,1166.7 365.7,1166.4 367.1,1166.0 368.6,1165.7 370.1,1165.3 371.5,1164.9 373.0,1164.5 374.4,1164.1 375.9,1163.7 377.3,1163.3 378.8,1162.9 380.2,1162.4 381.7,1161.9 383.1,1161.5 384.6,1161.0 386.0,1160.5 387.5,1160.0 388.9,1159.5 390.4,1159.0 391.8,1158.5 393.3,1158.0 394.7,1157.5 396.2,1157.0 397.6,1156.5 399.1,1156.0 400.5,1155.5 402.0,1154.9 403.4,1154.4 404.9,1153.9 406.3,1153.4 407.8,1152.9 409.2,1152.4 410.7,1151.9 412.1,1151.4 413.6,1150.9 415.0,1150.4 416.5,1150.0 417.9,1149.5 419.4,1149.0 420.8,1148.6 422.3,1148.1 423.7,1147.7 425.2,1147.3 426.6,1146.8 428.1,1146.4 429.5,1146.0 431.0,1145.6 432.4,1145.2 433.9,1144.8 435.3,1144.4 436.8,1144.0 438.2,1143.6 439.7,1143.3 441.1,1142.9 442.6,1142.5 444.0,1142.2 445.5,1141.8 446.9,1141.5 448.4,1141.1 449.8,1140.8 451.3,1140.4 452.7,1140.1 454.2,1139.8 455.6,1139.5 457.1,1139.1 458.5,1138.8 460.0,1138.5 461.4,1138.2 462.9,1137.9 464.3,1137.6 465.8,1137.3 467.3,1137.0 468.7,1136.7 470.2,1136.5 471.6,1136.2 473.1,1135.9 474.5,1135.6 476.0,1135.4 477.5,1135.1 478.9,1134.8 480.4,1134.5 481.8,1134.3 483.3,1134.0 484.7,1133.7 486.2,1133.4 487.6,1133.1 489.1,1132.8 490.5,1132.4 491.9,1132.1 493.4,1131.8 494.8,1131.4 496.2,1131.0 497.7,1130.6 499.1,1130.2 500.5,1129.8 501.9,1129.4 503.3,1128.9 504.7,1128.5 506.1,1128.0 507.5,1127.5 508.8,1126.9 510.2,1126.4 511.6,1125.8 512.9,1125.2 514.3,1124.5 515.6,1123.9 517.0,1123.2 518.3,1122.5 519.6,1121.7 520.9,1121.0 522.2,1120.2 523.5,1119.4 524.8,1118.5 526.1,1117.7 527.3,1116.8 528.6,1115.9 529.8,1115.0 531.1,1114.0 532.3,1113.1 533.5,1112.1 534.7,1111.1 535.9,1110.1 537.0,1109.1 538.2,1108.0 539.4,1107.0 540.5,1105.9 541.6,1104.9 542.7,1103.8 543.8,1102.7 544.9,1101.6 546.0,1100.5 547.0,1099.4 548.1,1098.3 549.1,1097.2 550.1,1096.0 551.1,1094.9 552.0,1093.8 553.0,1092.7 554.0,1091.5 554.9,1090.4 555.8,1089.3 556.7,1088.1 557.6,1087.0 558.5,1085.9 559.4,1084.8 560.3,1083.6 561.2,1082.5 562.1,1081.3 563.0,1080.2 563.9,1079.1 564.9,1077.9 565.8,1076.7 566.8,1075.6 567.8,1074.4 568.8,1073.3 569.8,1072.1 570.9,1070.9 572.0,1069.7 573.0,1068.5 574.1,1067.3 575.1,1066.1 576.0,1064.9 577.0,1063.7 577.9,1062.5 578.7,1061.3 579.4,1060.0 580.2,1058.8 580.9,1057.5 581.5,1056.2 582.1,1055.0 582.7,1053.7 583.2,1052.4 583.8,1051.1 584.3,1049.7 584.7,1048.4 585.2,1047.1 585.7,1045.7 586.1,1044.3 586.5,1043.0 587.0,1041.6 587.4,1040.2 587.8,1038.8 588.2,1037.4 588.6,1035.9 588.9,1034.5 589.3,1033.0 589.7,1031.6 590.0,1030.1 590.4,1028.7 590.7,1027.2 591.0,1025.7 591.3,1024.2 591.6,1022.7 591.9,1021.2 592.2,1019.7 592.5,1018.2 592.8,1016.7 593.1,1015.2 593.4,1013.7 593.6,1012.1 593.9,1010.6 594.2,1009.1 594.4,1007.6 594.7,1006.0 594.9,1004.5 595.2,1003.0 595.4,1001.4 595.7,999.9 595.9,998.3 596.1,996.8 596.4,995.3 596.6,993.7 596.8,992.2 597.0,990.7 597.3,989.1 597.5,987.6 597.7,986.1 598.0,984.5 598.2,983.0 598.4,981.5 598.6,980.0 598.9,978.5 599.1,977.0 599.3,975.5 599.6,974.0 599.8,972.5 600.1,971.0 600.3,969.6 600.6,968.1 600.8,966.6 601.0,965.1 601.3,963.7 601.5,962.2 601.8,960.8 602.1,959.3 602.3,957.9 602.6,956.4 602.8,955.0 603.1,953.5 603.4,952.1 603.6,950.7 603.9,949.2 604.2,947.8 604.4,946.4 604.7,944.9 605.0,943.5 605.2,942.1 605.5,940.6 605.8,939.2 606.0,937.8 606.3,936.3 606.6,934.9 606.9,933.5 607.2,932.0 607.4,930.6 607.7,929.1 608.0,927.7 608.3,926.2 608.6,924.8 608.8,923.3 609.1,921.9 609.4,920.4 609.7,919.0 610.0,917.5 610.3,916.0 610.6,914.6 610.8,913.1 611.1,911.6 611.4,910.1 611.7,908.6 612.0,907.1 612.3,905.6 612.6,904.1 612.9,902.6 613.1,901.1 613.4,899.6 613.7,898.0 614.0,896.5 614.3,894.9 614.6,893.4 614.9,891.8 615.2,890.3 615.4,888.7 615.7,887.1 616.0,885.5 616.3,883.9 616.6,882.3 616.8,880.8 617.1,879.2 617.3,877.6 617.6,876.0 617.8,874.5 618.0,872.9 618.3,871.4 618.5,869.9 618.6,868.4 618.8,866.9 619.1,865.4 619.3,864.0 619.6,862.6 619.9,861.2 620.3,859.8 620.7,858.5 621.3,857.2 621.9,855.9 622.6,854.7 623.5,853.5 624.4,852.3 625.5,851.3 626.6,850.4 627.8,849.8 629.0,849.4 630.3,849.4 631.5,849.7 632.7,850.3 633.8,851.1 634.9,852.1 635.9,853.3 636.7,854.6 637.5,855.9 638.2,857.4 638.7,858.9 639.3,860.4 639.7,862.1 640.1,863.7 640.5,865.4 640.8,867.1 641.1,868.8 641.3,870.5 641.6,872.1 641.8,873.7 642.0,875.3 642.3,876.8 642.5,878.4 642.7,879.8 642.9,881.3 643.2,882.7 643.4,884.2 643.6,885.6 643.8,887.0 644.0,888.4 644.3,889.8 644.5,891.2 644.7,892.6 644.9,894.0 645.1,895.4 645.3,896.8 645.5,898.3 645.7,899.7 645.9,901.2 646.1,902.6 646.3,904.1 646.5,905.5 646.7,907.0 646.9,908.5 647.1,910.0 647.2,911.5 647.4,913.0 647.6,914.4 647.8,915.9 648.0,917.4 648.2,918.9 648.4,920.4 648.6,921.9 648.8,923.5 649.0,925.0 649.3,926.5 649.5,928.0 649.7,929.5 649.9,931.0 650.1,932.5 650.4,934.0 650.6,935.5 650.8,937.0 651.1,938.5 651.3,940.0 651.5,941.5 651.8,943.0 652.0,944.5 652.3,946.0 652.5,947.5 652.8,949.0 653.0,950.5 653.3,952.0 653.5,953.5 653.8,955.0 654.0,956.5 654.3,958.0 654.5,959.4 654.8,960.9 655.0,962.4 655.3,963.9 655.5,965.4 655.8,966.9 656.0,968.4 656.3,969.9 656.5,971.4 656.8,972.9 657.0,974.4 657.3,975.8 657.5,977.3 657.8,978.8 658.0,980.3 658.3,981.8 658.5,983.3 658.7,984.8 659.0,986.2 659.2,987.7 659.4,989.2 659.7,990.7 659.9,992.2 660.1,993.7 660.3,995.1 660.5,996.6 660.7,998.1 660.9,999.6 661.2,1001.0 661.4,1002.5 661.6,1004.0 661.8,1005.5 662.0,1007.0 662.2,1008.4 662.4,1009.9 662.6,1011.4 662.8,1012.9 663.0,1014.3 663.2,1015.8 663.4,1017.3 663.6,1018.8 663.8,1020.2 664.0,1021.7 664.2,1023.2 664.4,1024.6 664.6,1026.1 664.8,1027.6 665.0,1029.1 665.2,1030.5 665.5,1032.0 665.7,1033.5 665.9,1034.9 666.1,1036.4 666.4,1037.9 666.6,1039.3 666.9,1040.8 667.1,1042.3 667.4,1043.8 667.7,1045.2 667.9,1046.7 668.2,1048.2 668.5,1049.6 668.8,1051.1 669.1,1052.6 669.4,1054.0 669.7,1055.5 670.0,1057.0 670.3,1058.4 670.7,1059.9 671.0,1061.3 671.4,1062.8 671.8,1064.3 672.1,1065.7 672.5,1067.2 672.9,1068.7 673.3,1070.1 673.7,1071.6 674.1,1073.1 674.6,1074.5 675.0,1076.0 675.5,1077.5 676.0,1078.9 676.4,1080.4 676.9,1081.8 677.5,1083.3 678.0,1084.8 678.5,1086.2 679.1,1087.7 679.6,1089.1 680.2,1090.5 680.8,1092.0 681.4,1093.4 682.0,1094.8 682.6,1096.2 683.3,1097.6 684.0,1099.0 684.6,1100.4 685.3,1101.7 686.0,1103.1 686.8,1104.4 687.5,1105.7 688.3,1107.0 689.1,1108.3 689.9,1109.6 690.7,1110.9 691.5,1112.1 692.4,1113.4 693.2,1114.6 694.1,1115.8 695.0,1117.0 696.0,1118.1 696.9,1119.2 697.9,1120.4 698.9,1121.4 699.9,1122.5 700.9,1123.6 702.0,1124.6 703.0,1125.6 704.1,1126.5 705.3,1127.5 706.4,1128.4 707.5,1129.3 708.7,1130.2 709.9,1131.0 711.1,1131.8 712.4,1132.6 713.6,1133.4 714.9,1134.2 716.1,1134.9 717.4,1135.6 718.7,1136.3 720.1,1137.0 721.4,1137.6 722.8,1138.2 724.1,1138.8 725.5,1139.4 726.9,1140.0 728.3,1140.5 729.7,1141.1 731.1,1141.6 732.5,1142.1 733.9,1142.5 735.4,1143.0 736.8,1143.4 738.3,1143.9 739.7,1144.3 741.2,1144.7 742.7,1145.1 744.1,1145.4 745.6,1145.8 747.1,1146.1 748.6,1146.4 750.1,1146.7 751.6,1147.0 753.0,1147.3 754.5,1147.6 756.0,1147.8 757.5,1148.1 759.0,1148.3 760.5,1148.5 762.0,1148.8 763.5,1149.0 765.0,1149.1 766.5,1149.3 768.0,1149.5 769.5,1149.7 771.0,1149.8 772.5,1150.0 774.0,1150.1 775.5,1150.2 777.0,1150.4 778.5,1150.5 780.0,1150.6 781.5,1150.7 783.0,1150.8 784.5,1150.9 786.0,1151.0 787.5,1151.1 789.0,1151.2 790.5,1151.2 792.0,1151.3 793.5,1151.4 795.0,1151.4 796.5,1151.5 798.0,1151.6 799.5,1151.6 801.0,1151.7 802.5,1151.8 804.0,1151.8 805.5,1151.9 807.0,1151.9 808.5,1152.0 810.0,1152.0 811.6,1152.1 813.1,1152.2 814.6,1152.2 816.1,1152.3 817.6,1152.4 819.1,1152.4 820.6,1152.5 822.1,1152.6 823.6,1152.7 825.1,1152.8 826.6,1152.8 828.1,1152.9 829.5,1153.0 831.0,1153.1 832.5,1153.3 834.0,1153.4 835.5,1153.5 837.0,1153.6 838.5,1153.8 840.0,1153.9" fill="none" stroke="#f5900a" stroke-width="8" stroke-linejoin="round" clip-path="url(#cc)"/>
<line x1="226.8" y1="805.5" x2="310.7" y2="805.5" stroke="#0000f0" stroke-width="7" stroke-linecap="round"/><line x1="226.8" y1="861.1" x2="310.7" y2="861.1" stroke="#00f5f5" stroke-width="7" stroke-linecap="round"/><line x1="226.8" y1="916.7" x2="310.7" y2="916.7" stroke="#880000" stroke-width="7" stroke-linecap="round"/><line x1="226.8" y1="972.3" x2="310.7" y2="972.3" stroke="#f5900a" stroke-width="7" stroke-linecap="round"/>
<text x="144.00" y="399.20" font-size="38" text-anchor="end" >0.00</text><text x="144.00" y="297.10" font-size="38" text-anchor="end" >0.02</text><text x="144.00" y="195.00" font-size="38" text-anchor="end" >0.04</text><text x="144.00" y="92.90" font-size="38" text-anchor="end" >0.06</text><text x="144.00" y="791.20" font-size="38" text-anchor="end" >0.00</text><text x="144.00" y="681.80" font-size="38" text-anchor="end" >0.01</text><text x="144.00" y="572.40" font-size="38" text-anchor="end" >0.02</text><text x="144.00" y="463.00" font-size="38" text-anchor="end" >0.03</text><text x="144.00" y="1187.70" font-size="38" text-anchor="end" >0.00</text><text x="144.00" y="1089.30" font-size="38" text-anchor="end" >0.01</text><text x="144.00" y="990.90" font-size="38" text-anchor="end" >0.02</text><text x="144.00" y="892.50" font-size="38" text-anchor="end" >0.03</text><text x="163.20" y="1221.60" font-size="38" text-anchor="middle" >0.25</text><text x="386.85" y="1221.60" font-size="38" text-anchor="middle" >0.50</text><text x="610.50" y="1221.60" font-size="38" text-anchor="middle" >0.75</text><text x="834.15" y="1221.60" font-size="38" text-anchor="middle" >1.00</text><text x="177.47" y="62.30" font-size="52" >a</text><text x="176.60" y="447.00" font-size="53.5" >b</text><text x="176.28" y="843.20" font-size="53" >c</text><text x="691.23" y="99.00" font-size="37" >Pt</text><text x="520.73" y="287.60" font-size="37" >Ru</text><text x="475.63" y="458.30" font-size="37">Ru@Pt<tspan font-size="25.5" dy="10.3">0.3MLE</tspan></text><text x="533.43" y="560.40" font-size="37">Ru@Pt<tspan font-size="25.5" dy="10.3">0.5MLE</tspan></text><text x="599.73" y="662.90" font-size="37">Ru@Pt<tspan font-size="25.5" dy="10.3">0.9MLE</tspan></text><text x="322.93" y="817.70" font-size="37">Ru@Pt<tspan font-size="25.5" dy="10.5">1.4MLE</tspan></text><text x="322.93" y="873.30" font-size="37">Ru@Pt<tspan font-size="25.5" dy="10.5">1.8MLE</tspan></text><text x="322.93" y="928.90" font-size="37">Ru@Pt<tspan font-size="25.5" dy="10.5">2.1MLE</tspan></text><text x="322.93" y="984.50" font-size="37">Ru@Pt<tspan font-size="25.5" dy="10.5">2.3MLE</tspan></text><text x="419.32" y="1264.00" font-size="44" font-style="italic" >E</text><text x="458.15" y="1266.20" font-size="46.5" >[</text><text x="474.21" y="1264.00" font-size="44" >V</text><text x="506.84" y="1276.30" font-size="30" >RHE</text><text x="565.92" y="1266.20" font-size="46.5" >]</text><g transform="translate(41.3,719) rotate(-90)"><text x="-1.69" y="0.00" font-size="43" font-style="italic">i</text><text x="10.56" y="13.00" font-size="30.2">surface</text><text x="110.52" y="2.20" font-size="45.5">[</text><text x="124.90" y="0.00" font-size="43">m</text><text x="162.28" y="0.00" font-size="43">A</text><text x="204.16" y="0.00" font-size="43">cm</text><text x="259.12" y="-19.10" font-size="29">-2</text><text x="260.40" y="12.00" font-size="27.6">NM</text><text x="308.06" y="2.20" font-size="45.5">]</text></g>
<path d="M627.4,6.5 L627.4,1175 M668.2,6.5 L668.2,1175" stroke="#c6c6c6" stroke-width="2.4" stroke-dasharray="10 11.14" fill="none"/>
</svg></div></body></html>
